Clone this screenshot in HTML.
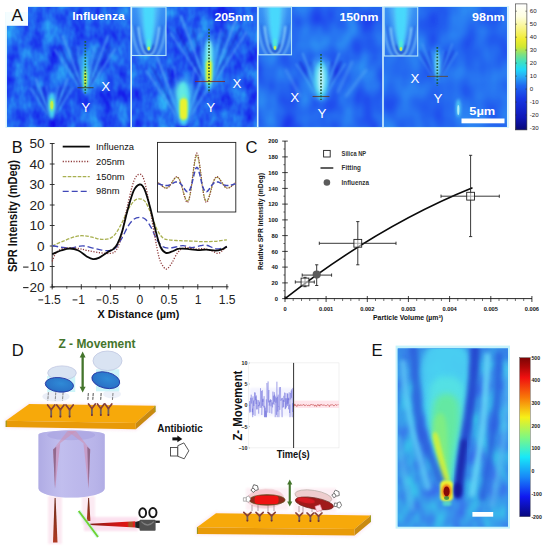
<!DOCTYPE html>
<html><head><meta charset="utf-8"><title>figure</title><style>html,body{margin:0;padding:0;background:#fff;overflow:hidden}svg{display:block}text{font-family:"Liberation Sans",sans-serif}</style></head>
<body>
<svg width="547" height="550" viewBox="0 0 547 550" font-family="Liberation Sans, sans-serif">
<rect width="547" height="550" fill="#fff"/>

<defs>
<filter id="b05" x="-50%" y="-50%" width="200%" height="200%" color-interpolation-filters="sRGB"><feGaussianBlur stdDeviation="0.5"/></filter>
<filter id="b1" x="-50%" y="-50%" width="200%" height="200%" color-interpolation-filters="sRGB"><feGaussianBlur stdDeviation="1"/></filter>
<filter id="b15" x="-50%" y="-50%" width="200%" height="200%" color-interpolation-filters="sRGB"><feGaussianBlur stdDeviation="1.5"/></filter>
<filter id="b2" x="-50%" y="-50%" width="200%" height="200%" color-interpolation-filters="sRGB"><feGaussianBlur stdDeviation="2"/></filter>
<filter id="b3" x="-50%" y="-50%" width="200%" height="200%" color-interpolation-filters="sRGB"><feGaussianBlur stdDeviation="3"/></filter>
<filter id="noise0" x="0" y="0" width="100%" height="100%" color-interpolation-filters="sRGB"><feTurbulence type="fractalNoise" baseFrequency="0.07 0.045" numOctaves="3" seed="3"/><feColorMatrix type="matrix" values="0.14 0 0 0 0.06  0.85 0 0 0 -0.05  0.06 0 0 0 0.91  0 0 0 0 1"/></filter>
<filter id="noise1" x="0" y="0" width="100%" height="100%" color-interpolation-filters="sRGB"><feTurbulence type="fractalNoise" baseFrequency="0.07 0.045" numOctaves="3" seed="11"/><feColorMatrix type="matrix" values="0.14 0 0 0 0.06  0.85 0 0 0 -0.05  0.06 0 0 0 0.91  0 0 0 0 1"/></filter>
<filter id="noiseE" x="0" y="0" width="100%" height="100%" color-interpolation-filters="sRGB"><feTurbulence type="fractalNoise" baseFrequency="0.06 0.04" numOctaves="2" seed="5"/><feColorMatrix type="matrix" values="0 0 0 0 0.22  0.55 0 0 0 0.32  0 0 0 0 0.92  0 0 0 0 1"/></filter>
<filter id="noise2" x="0" y="0" width="100%" height="100%" color-interpolation-filters="sRGB"><feTurbulence type="fractalNoise" baseFrequency="0.05 0.035" numOctaves="2" seed="21"/><feColorMatrix type="matrix" values="0.1 0 0 0 0.1  0.5 0 0 0 0.17  0.04 0 0 0 0.92  0 0 0 0 1"/></filter>
<filter id="noise3" x="0" y="0" width="100%" height="100%" color-interpolation-filters="sRGB"><feTurbulence type="fractalNoise" baseFrequency="0.045 0.03" numOctaves="2" seed="33"/><feColorMatrix type="matrix" values="0.1 0 0 0 0.1  0.45 0 0 0 0.2  0.04 0 0 0 0.92  0 0 0 0 1"/></filter>
<linearGradient id="cbA" x1="0" y1="0" x2="0" y2="1">
<stop offset="0" stop-color="#ffffff"/><stop offset="0.1" stop-color="#fefee0"/><stop offset="0.2" stop-color="#f8f480"/><stop offset="0.28" stop-color="#f0ec30"/><stop offset="0.34" stop-color="#d0e830"/><stop offset="0.4" stop-color="#80e080"/><stop offset="0.46" stop-color="#40e0c0"/><stop offset="0.52" stop-color="#20d8f8"/><stop offset="0.58" stop-color="#28a8f4"/><stop offset="0.65" stop-color="#2068f0"/><stop offset="0.75" stop-color="#1838e4"/><stop offset="0.9" stop-color="#1018b8"/><stop offset="1" stop-color="#080878"/>
</linearGradient>
<linearGradient id="cbE" x1="0" y1="0" x2="0" y2="1">
<stop offset="0" stop-color="#7c0404"/><stop offset="0.06" stop-color="#b00808"/><stop offset="0.125" stop-color="#f01010"/><stop offset="0.25" stop-color="#f87808"/><stop offset="0.375" stop-color="#f6f018"/><stop offset="0.5" stop-color="#80f880"/><stop offset="0.625" stop-color="#18e8f8"/><stop offset="0.75" stop-color="#1888f8"/><stop offset="0.875" stop-color="#1018f0"/><stop offset="1" stop-color="#08087c"/>
</linearGradient>
<linearGradient id="insetbg" x1="0" y1="0" x2="0" y2="1"><stop offset="0" stop-color="#3a92f4"/><stop offset="1" stop-color="#2c74ee"/></linearGradient>
<linearGradient id="cylshade" x1="0" y1="0" x2="1" y2="0"><stop offset="0" stop-color="#a8a4e0" stop-opacity="0.6"/><stop offset="0.35" stop-color="#c8c6f2" stop-opacity="0.5"/><stop offset="0.75" stop-color="#bcb8ec" stop-opacity="0.2"/><stop offset="1" stop-color="#a8a4e0" stop-opacity="0.55"/></linearGradient>
<linearGradient id="redbeam" x1="0" y1="0" x2="1" y2="0"><stop offset="0" stop-color="#7c1c14"/><stop offset="0.45" stop-color="#c01818"/><stop offset="0.82" stop-color="#e01414"/><stop offset="0.86" stop-color="#a85020"/><stop offset="0.93" stop-color="#a85020"/><stop offset="0.95" stop-color="#e02020"/><stop offset="1" stop-color="#e02020"/></linearGradient>
<linearGradient id="beamv" x1="0" y1="0" x2="0" y2="1"><stop offset="0" stop-color="#6c2c1c"/><stop offset="1" stop-color="#b03a22"/></linearGradient>
<radialGradient id="bluecell" cx="0.55" cy="0.4" r="0.7"><stop offset="0" stop-color="#2f8ad6"/><stop offset="0.7" stop-color="#2a74c8"/><stop offset="1" stop-color="#2858b8"/></radialGradient>
</defs>
<g id="panelA">
<rect x="5.5" y="6" width="503.6" height="122" fill="#d8f4fb"/>
<rect x="7" y="7" width="124" height="119.5" fill="#1650f6"/>
<rect x="7" y="7" width="124" height="119.5" fill="#1650f6" filter="url(#noise0)" opacity="0.92"/>
<rect x="131.5" y="7" width="126.0" height="119.5" fill="#1650f6"/>
<rect x="131.5" y="7" width="126.0" height="119.5" fill="#1650f6" filter="url(#noise1)" opacity="0.92"/>
<rect x="258" y="7" width="124.5" height="119.5" fill="#1650f6"/>
<rect x="258" y="7" width="124.5" height="119.5" fill="#1650f6" filter="url(#noise2)" opacity="0.92"/>
<rect x="383.5" y="7" width="123.10000000000002" height="119.5" fill="#1650f6"/>
<rect x="383.5" y="7" width="123.10000000000002" height="119.5" fill="#1650f6" filter="url(#noise3)" opacity="0.92"/>
<clipPath id="cpA0"><rect x="7" y="7" width="124" height="119.5"/></clipPath>
<clipPath id="cpA1"><rect x="131.5" y="7" width="126.0" height="119.5"/></clipPath>
<clipPath id="cpA2"><rect x="258" y="7" width="124.5" height="119.5"/></clipPath>
<clipPath id="cpA3"><rect x="383.5" y="7" width="123.10000000000002" height="119.5"/></clipPath>
<g clip-path="url(#cpA0)">
<line x1="47.1" y1="113.1" x2="30.6" y2="88.5" stroke="#5aaef6" stroke-width="2.2" stroke-linecap="round" opacity="0.45" filter="url(#b1)"/><line x1="48.4" y1="111.0" x2="36.2" y2="79.3" stroke="#5aaef6" stroke-width="2.2" stroke-linecap="round" opacity="0.59" filter="url(#b1)"/><line x1="50.6" y1="112.6" x2="46.5" y2="86.3" stroke="#5aaef6" stroke-width="2.2" stroke-linecap="round" opacity="0.36" filter="url(#b1)"/><line x1="53.2" y1="112.6" x2="58.3" y2="86.5" stroke="#5aaef6" stroke-width="2.2" stroke-linecap="round" opacity="0.41" filter="url(#b1)"/><line x1="55.2" y1="111.0" x2="67.4" y2="79.3" stroke="#5aaef6" stroke-width="2.2" stroke-linecap="round" opacity="0.59" filter="url(#b1)"/><line x1="56.3" y1="113.0" x2="72.5" y2="88.2" stroke="#5aaef6" stroke-width="2.2" stroke-linecap="round" opacity="0.45" filter="url(#b1)"/><line x1="49.7" y1="116.0" x2="34.0" y2="86.5" stroke="#1722cc" stroke-width="2" stroke-linecap="round" opacity="0.54" filter="url(#b1)"/><line x1="50.7" y1="116.0" x2="43.0" y2="87.0" stroke="#1722cc" stroke-width="2" stroke-linecap="round" opacity="0.50" filter="url(#b1)"/><line x1="52.9" y1="116.1" x2="61.2" y2="87.2" stroke="#1722cc" stroke-width="2" stroke-linecap="round" opacity="0.50" filter="url(#b1)"/><line x1="53.9" y1="115.9" x2="69.0" y2="86.2" stroke="#1722cc" stroke-width="2" stroke-linecap="round" opacity="0.54" filter="url(#b1)"/>
<ellipse cx="51.8" cy="105.5" rx="4.6" ry="14" fill="#3fa8f5" opacity="0.7" filter="url(#b2)"/>
<ellipse cx="51.8" cy="105.5" rx="3" ry="13" fill="#48dcf2" opacity="0.95" filter="url(#b15)"/>
<ellipse cx="51.8" cy="105" rx="2.3" ry="6.5" fill="#7df08a" opacity="0.95" filter="url(#b1)"/>
<ellipse cx="51.8" cy="105" rx="1.5" ry="4" fill="#c8f040" opacity="0.95" filter="url(#b05)"/>
<line x1="78.6" y1="85.0" x2="54.8" y2="49.7" stroke="#5aaef6" stroke-width="2.2" stroke-linecap="round" opacity="0.45" filter="url(#b1)"/><line x1="80.3" y1="82.1" x2="62.8" y2="36.4" stroke="#5aaef6" stroke-width="2.2" stroke-linecap="round" opacity="0.59" filter="url(#b1)"/><line x1="83.6" y1="84.3" x2="77.6" y2="46.5" stroke="#5aaef6" stroke-width="2.2" stroke-linecap="round" opacity="0.36" filter="url(#b1)"/><line x1="87.4" y1="84.4" x2="94.7" y2="46.8" stroke="#5aaef6" stroke-width="2.2" stroke-linecap="round" opacity="0.41" filter="url(#b1)"/><line x1="90.3" y1="82.1" x2="107.8" y2="36.4" stroke="#5aaef6" stroke-width="2.2" stroke-linecap="round" opacity="0.59" filter="url(#b1)"/><line x1="91.8" y1="84.9" x2="115.0" y2="49.2" stroke="#5aaef6" stroke-width="2.2" stroke-linecap="round" opacity="0.45" filter="url(#b1)"/><line x1="82.2" y1="89.2" x2="59.7" y2="46.8" stroke="#1722cc" stroke-width="2" stroke-linecap="round" opacity="0.54" filter="url(#b1)"/><line x1="83.8" y1="89.3" x2="72.6" y2="47.5" stroke="#1722cc" stroke-width="2" stroke-linecap="round" opacity="0.50" filter="url(#b1)"/><line x1="86.9" y1="89.3" x2="98.8" y2="47.8" stroke="#1722cc" stroke-width="2" stroke-linecap="round" opacity="0.50" filter="url(#b1)"/><line x1="88.3" y1="89.2" x2="110.1" y2="46.4" stroke="#1722cc" stroke-width="2" stroke-linecap="round" opacity="0.54" filter="url(#b1)"/><ellipse cx="85.3" cy="73.5" rx="5.8" ry="21.8" fill="#3fa8f5" opacity="0.63" filter="url(#b2)"/><ellipse cx="85.3" cy="75.2" rx="3.1" ry="18.5" fill="#48dcf2" opacity="0.81" filter="url(#b15)"/><ellipse cx="85.3" cy="78.6" rx="2.0" ry="11.3" fill="#7df08a" opacity="0.95" filter="url(#b1)"/><ellipse cx="85.3" cy="79.0" rx="1.3" ry="8.0" fill="#d4f23a" opacity="0.95" filter="url(#b05)"/>
</g>
<g clip-path="url(#cpA1)">
<line x1="175.4" y1="113.9" x2="146.5" y2="71.2" stroke="#5aaef6" stroke-width="2.2" stroke-linecap="round" opacity="0.50" filter="url(#b1)"/><line x1="177.5" y1="110.4" x2="156.2" y2="55.0" stroke="#5aaef6" stroke-width="2.2" stroke-linecap="round" opacity="0.65" filter="url(#b1)"/><line x1="181.5" y1="113.1" x2="174.2" y2="67.2" stroke="#5aaef6" stroke-width="2.2" stroke-linecap="round" opacity="0.40" filter="url(#b1)"/><line x1="186.0" y1="113.1" x2="194.9" y2="67.6" stroke="#5aaef6" stroke-width="2.2" stroke-linecap="round" opacity="0.45" filter="url(#b1)"/><line x1="189.5" y1="110.4" x2="210.8" y2="55.0" stroke="#5aaef6" stroke-width="2.2" stroke-linecap="round" opacity="0.65" filter="url(#b1)"/><line x1="191.4" y1="113.8" x2="219.5" y2="70.5" stroke="#5aaef6" stroke-width="2.2" stroke-linecap="round" opacity="0.50" filter="url(#b1)"/><line x1="179.8" y1="119.0" x2="152.4" y2="67.6" stroke="#1722cc" stroke-width="2" stroke-linecap="round" opacity="0.60" filter="url(#b1)"/><line x1="181.7" y1="119.1" x2="168.1" y2="68.5" stroke="#1722cc" stroke-width="2" stroke-linecap="round" opacity="0.55" filter="url(#b1)"/><line x1="185.5" y1="119.1" x2="199.9" y2="68.8" stroke="#1722cc" stroke-width="2" stroke-linecap="round" opacity="0.55" filter="url(#b1)"/><line x1="187.1" y1="118.9" x2="213.5" y2="67.1" stroke="#1722cc" stroke-width="2" stroke-linecap="round" opacity="0.60" filter="url(#b1)"/><ellipse cx="183.5" cy="101.4" rx="12.1" ry="25.5" fill="#3fa8f5" opacity="0.70" filter="url(#b2)"/><ellipse cx="183.5" cy="103.4" rx="6.5" ry="21.6" fill="#48dcf2" opacity="0.90" filter="url(#b15)"/><ellipse cx="183.5" cy="107.3" rx="4.2" ry="13.2" fill="#7df08a" opacity="0.95" filter="url(#b1)"/><ellipse cx="183.5" cy="107.8" rx="2.7" ry="9.3" fill="#d4f23a" opacity="0.95" filter="url(#b05)"/>
<ellipse cx="182" cy="92" rx="5.5" ry="10" fill="#6af0e0" opacity="0.8" filter="url(#b2)"/>
<rect x="180" y="98.5" width="7.2" height="21" rx="3.4" fill="#e8f230" filter="url(#b1)"/>
<line x1="200.5" y1="77.5" x2="170.6" y2="33.0" stroke="#5aaef6" stroke-width="2.2" stroke-linecap="round" opacity="0.50" filter="url(#b1)"/><line x1="202.8" y1="73.8" x2="180.7" y2="16.2" stroke="#5aaef6" stroke-width="2.2" stroke-linecap="round" opacity="0.65" filter="url(#b1)"/><line x1="206.9" y1="76.6" x2="199.3" y2="28.9" stroke="#5aaef6" stroke-width="2.2" stroke-linecap="round" opacity="0.40" filter="url(#b1)"/><line x1="211.6" y1="76.6" x2="220.8" y2="29.3" stroke="#5aaef6" stroke-width="2.2" stroke-linecap="round" opacity="0.45" filter="url(#b1)"/><line x1="215.2" y1="73.8" x2="237.3" y2="16.2" stroke="#5aaef6" stroke-width="2.2" stroke-linecap="round" opacity="0.65" filter="url(#b1)"/><line x1="217.2" y1="77.3" x2="246.4" y2="32.3" stroke="#5aaef6" stroke-width="2.2" stroke-linecap="round" opacity="0.50" filter="url(#b1)"/><line x1="205.1" y1="82.7" x2="176.7" y2="29.3" stroke="#1722cc" stroke-width="2" stroke-linecap="round" opacity="0.60" filter="url(#b1)"/><line x1="207.1" y1="82.8" x2="193.0" y2="30.2" stroke="#1722cc" stroke-width="2" stroke-linecap="round" opacity="0.55" filter="url(#b1)"/><line x1="211.0" y1="82.9" x2="226.1" y2="30.5" stroke="#1722cc" stroke-width="2" stroke-linecap="round" opacity="0.55" filter="url(#b1)"/><line x1="212.7" y1="82.6" x2="240.2" y2="28.7" stroke="#1722cc" stroke-width="2" stroke-linecap="round" opacity="0.60" filter="url(#b1)"/><ellipse cx="209" cy="62.8" rx="8.6" ry="28.6" fill="#3fa8f5" opacity="0.70" filter="url(#b2)"/><ellipse cx="209" cy="65.0" rx="4.7" ry="24.2" fill="#48dcf2" opacity="0.90" filter="url(#b15)"/><ellipse cx="209" cy="69.4" rx="3.0" ry="14.9" fill="#7df08a" opacity="0.95" filter="url(#b1)"/><ellipse cx="209" cy="70.0" rx="2.0" ry="10.4" fill="#d4f23a" opacity="0.95" filter="url(#b05)"/>
<ellipse cx="209" cy="52" rx="2.6" ry="12" fill="#a8f8e8" opacity="0.8" filter="url(#b15)"/>
<rect x="206.4" y="61" width="5.2" height="22" rx="2.4" fill="#e8f230" filter="url(#b1)"/>
</g>
<g clip-path="url(#cpA2)">
<line x1="315.6" y1="93.0" x2="296.4" y2="64.5" stroke="#5aaef6" stroke-width="2.2" stroke-linecap="round" opacity="0.42" filter="url(#b1)"/><line x1="317.0" y1="90.6" x2="302.9" y2="53.8" stroke="#5aaef6" stroke-width="2.2" stroke-linecap="round" opacity="0.55" filter="url(#b1)"/><line x1="319.6" y1="92.4" x2="314.8" y2="61.9" stroke="#5aaef6" stroke-width="2.2" stroke-linecap="round" opacity="0.34" filter="url(#b1)"/><line x1="322.7" y1="92.4" x2="328.6" y2="62.1" stroke="#5aaef6" stroke-width="2.2" stroke-linecap="round" opacity="0.38" filter="url(#b1)"/><line x1="325.0" y1="90.6" x2="339.1" y2="53.8" stroke="#5aaef6" stroke-width="2.2" stroke-linecap="round" opacity="0.55" filter="url(#b1)"/><line x1="326.3" y1="92.9" x2="345.0" y2="64.1" stroke="#5aaef6" stroke-width="2.2" stroke-linecap="round" opacity="0.42" filter="url(#b1)"/><line x1="318.5" y1="96.3" x2="300.3" y2="62.2" stroke="#1722cc" stroke-width="2" stroke-linecap="round" opacity="0.51" filter="url(#b1)"/><line x1="319.8" y1="96.4" x2="310.8" y2="62.7" stroke="#1722cc" stroke-width="2" stroke-linecap="round" opacity="0.47" filter="url(#b1)"/><line x1="322.3" y1="96.4" x2="331.9" y2="62.9" stroke="#1722cc" stroke-width="2" stroke-linecap="round" opacity="0.47" filter="url(#b1)"/><line x1="323.4" y1="96.3" x2="341.0" y2="61.8" stroke="#1722cc" stroke-width="2" stroke-linecap="round" opacity="0.51" filter="url(#b1)"/><ellipse cx="321" cy="78.6" rx="12.6" ry="22.9" fill="#3fa8f5" opacity="0.59" filter="url(#b2)"/><ellipse cx="321" cy="80.4" rx="6.8" ry="19.4" fill="#48dcf2" opacity="0.77" filter="url(#b15)"/>
<ellipse cx="321" cy="78" rx="5.5" ry="15" fill="#7ee6f6" opacity="0.7" filter="url(#b2)"/>
<ellipse cx="321" cy="80" rx="2.6" ry="13" fill="#d0fafa" opacity="0.85" filter="url(#b15)"/>
<line x1="338" y1="92" x2="352" y2="62" stroke="#62b4f6" stroke-width="2.4" opacity="0.45" stroke-linecap="round" filter="url(#b15)"/>
<line x1="346" y1="96" x2="366" y2="70" stroke="#62b4f6" stroke-width="2.4" opacity="0.45" stroke-linecap="round" filter="url(#b15)"/>
<line x1="300" y1="96" x2="286" y2="70" stroke="#62b4f6" stroke-width="2.4" opacity="0.45" stroke-linecap="round" filter="url(#b15)"/>
</g>
<g clip-path="url(#cpA3)">
<line x1="432.9" y1="76.4" x2="417.2" y2="53.2" stroke="#5aaef6" stroke-width="2.2" stroke-linecap="round" opacity="0.30" filter="url(#b1)"/><line x1="434.0" y1="74.5" x2="422.5" y2="44.3" stroke="#5aaef6" stroke-width="2.2" stroke-linecap="round" opacity="0.39" filter="url(#b1)"/><line x1="436.2" y1="76.0" x2="432.2" y2="51.0" stroke="#5aaef6" stroke-width="2.2" stroke-linecap="round" opacity="0.24" filter="url(#b1)"/><line x1="438.7" y1="76.0" x2="443.5" y2="51.2" stroke="#5aaef6" stroke-width="2.2" stroke-linecap="round" opacity="0.27" filter="url(#b1)"/><line x1="440.6" y1="74.5" x2="452.1" y2="44.3" stroke="#5aaef6" stroke-width="2.2" stroke-linecap="round" opacity="0.39" filter="url(#b1)"/><line x1="441.6" y1="76.4" x2="456.9" y2="52.8" stroke="#5aaef6" stroke-width="2.2" stroke-linecap="round" opacity="0.30" filter="url(#b1)"/><line x1="435.3" y1="79.2" x2="420.4" y2="51.2" stroke="#1722cc" stroke-width="2" stroke-linecap="round" opacity="0.36" filter="url(#b1)"/><line x1="436.3" y1="79.2" x2="428.9" y2="51.7" stroke="#1722cc" stroke-width="2" stroke-linecap="round" opacity="0.33" filter="url(#b1)"/><line x1="438.4" y1="79.3" x2="446.2" y2="51.9" stroke="#1722cc" stroke-width="2" stroke-linecap="round" opacity="0.33" filter="url(#b1)"/><line x1="439.3" y1="79.2" x2="453.6" y2="50.9" stroke="#1722cc" stroke-width="2" stroke-linecap="round" opacity="0.36" filter="url(#b1)"/><ellipse cx="437.3" cy="64.2" rx="5.2" ry="18.7" fill="#3fa8f5" opacity="0.42" filter="url(#b2)"/><ellipse cx="437.3" cy="65.6" rx="2.8" ry="15.8" fill="#48dcf2" opacity="0.54" filter="url(#b15)"/>
<ellipse cx="437.3" cy="64" rx="1.6" ry="12" fill="#9ceaf8" opacity="0.7" filter="url(#b1)"/>
<ellipse cx="458.3" cy="108" rx="2.4" ry="9" fill="#58d8f4" opacity="0.85" filter="url(#b15)"/>
<ellipse cx="458.3" cy="110" rx="1.1" ry="5" fill="#c8f8fa" opacity="0.8" filter="url(#b05)"/>
</g>
<clipPath id="ci131"><rect x="131.6" y="7" width="34.400000000000006" height="48.5"/></clipPath>
<rect x="131.6" y="7" width="34.400000000000006" height="48.5" fill="url(#insetbg)"/>
<g clip-path="url(#ci131)">
<path d="M137.8,5 Q140.8,36.9 148.8,50.9 Q156.8,36.9 159.8,5 Z" fill="#56c0fa" opacity="0.8" filter="url(#b2)"/>
<path d="M142.8,5 Q143.8,40.9 148.8,51.4 Q153.8,40.9 154.8,5 Z" fill="#48dcfc" opacity="0.92" filter="url(#b15)"/>
<path d="M143.8,44.9 Q145.20000000000002,53.3 148.8,53.3 Q152.4,53.3 153.8,44.9" fill="none" stroke="#1428b0" stroke-width="1.7" opacity="0.75" filter="url(#b1)"/>
<path d="M138.3,26.9 Q141.24,55.5 148.8,55.5 Q156.36,55.5 159.3,26.9" fill="none" stroke="#9adcfa" stroke-width="1.9" opacity="0.85" filter="url(#b1)"/>
<path d="M134.60000000000002,24.9 Q138.57600000000002,57.9 148.8,57.9 Q159.024,57.9 163.0,24.9" fill="none" stroke="#2450d8" stroke-width="1.5" opacity="0.5" filter="url(#b1)"/>
<path d="M131.20000000000002,24.9 Q136.12800000000001,60.3 148.8,60.3 Q161.472,60.3 166.4,24.9" fill="none" stroke="#8cd0f8" stroke-width="1.7" opacity="0.7" filter="url(#b1)"/>
<ellipse cx="148.8" cy="44.4" rx="1.7" ry="5" fill="#50f0d0" opacity="0.9" filter="url(#b1)"/>
<ellipse cx="148.8" cy="48.5" rx="1.4" ry="2.1" fill="#c8f050" filter="url(#b05)"/>
</g>
<rect x="131.6" y="7" width="34.400000000000006" height="48.5" fill="none" stroke="#b4e6f8" stroke-width="1.1"/>
<clipPath id="ci258"><rect x="258.5" y="7" width="33.0" height="47.8"/></clipPath>
<rect x="258.5" y="7" width="33.0" height="47.8" fill="url(#insetbg)"/>
<g clip-path="url(#ci258)">
<path d="M264.0,5 Q267.0,36.199999999999996 275.0,50.199999999999996 Q283.0,36.199999999999996 286.0,5 Z" fill="#56c0fa" opacity="0.8" filter="url(#b2)"/>
<path d="M269.0,5 Q270.0,40.199999999999996 275.0,50.699999999999996 Q280.0,40.199999999999996 281.0,5 Z" fill="#48dcfc" opacity="0.92" filter="url(#b15)"/>
<path d="M270.0,44.199999999999996 Q271.4,52.599999999999994 275.0,52.599999999999994 Q278.6,52.599999999999994 280.0,44.199999999999996" fill="none" stroke="#1428b0" stroke-width="1.7" opacity="0.75" filter="url(#b1)"/>
<path d="M264.5,26.199999999999996 Q267.44,54.8 275.0,54.8 Q282.56,54.8 285.5,26.199999999999996" fill="none" stroke="#9adcfa" stroke-width="1.9" opacity="0.85" filter="url(#b1)"/>
<path d="M260.8,24.199999999999996 Q264.776,57.199999999999996 275.0,57.199999999999996 Q285.224,57.199999999999996 289.2,24.199999999999996" fill="none" stroke="#2450d8" stroke-width="1.5" opacity="0.5" filter="url(#b1)"/>
<path d="M257.4,24.199999999999996 Q262.328,59.599999999999994 275.0,59.599999999999994 Q287.672,59.599999999999994 292.6,24.199999999999996" fill="none" stroke="#8cd0f8" stroke-width="1.7" opacity="0.7" filter="url(#b1)"/>
<ellipse cx="275.0" cy="43.699999999999996" rx="1.7" ry="5" fill="#50f0d0" opacity="0.9" filter="url(#b1)"/>
<ellipse cx="275.0" cy="47.8" rx="1.4" ry="2.1" fill="#c8f050" filter="url(#b05)"/>
</g>
<rect x="258.5" y="7" width="33.0" height="47.8" fill="none" stroke="#b4e6f8" stroke-width="1.1"/>
<clipPath id="ci384"><rect x="384.2" y="7" width="33.5" height="49"/></clipPath>
<rect x="384.2" y="7" width="33.5" height="49" fill="url(#insetbg)"/>
<g clip-path="url(#ci384)">
<path d="M389.95,5 Q392.95,37.4 400.95,51.4 Q408.95,37.4 411.95,5 Z" fill="#56c0fa" opacity="0.8" filter="url(#b2)"/>
<path d="M394.95,5 Q395.95,41.4 400.95,51.9 Q405.95,41.4 406.95,5 Z" fill="#48dcfc" opacity="0.92" filter="url(#b15)"/>
<path d="M395.95,45.4 Q397.34999999999997,53.8 400.95,53.8 Q404.55,53.8 405.95,45.4" fill="none" stroke="#1428b0" stroke-width="1.7" opacity="0.75" filter="url(#b1)"/>
<path d="M390.45,27.4 Q393.39,56.0 400.95,56.0 Q408.51,56.0 411.45,27.4" fill="none" stroke="#9adcfa" stroke-width="1.9" opacity="0.85" filter="url(#b1)"/>
<path d="M386.75,25.4 Q390.726,58.4 400.95,58.4 Q411.174,58.4 415.15,25.4" fill="none" stroke="#2450d8" stroke-width="1.5" opacity="0.5" filter="url(#b1)"/>
<path d="M383.34999999999997,25.4 Q388.27799999999996,60.8 400.95,60.8 Q413.622,60.8 418.55,25.4" fill="none" stroke="#8cd0f8" stroke-width="1.7" opacity="0.7" filter="url(#b1)"/>
<ellipse cx="400.95" cy="44.9" rx="1.7" ry="5" fill="#50f0d0" opacity="0.9" filter="url(#b1)"/>
<ellipse cx="400.95" cy="49.0" rx="1.4" ry="2.1" fill="#c8f050" filter="url(#b05)"/>
</g>
<rect x="384.2" y="7" width="33.5" height="49" fill="none" stroke="#b4e6f8" stroke-width="1.1"/>
<rect x="130.39999999999998" y="6" width="1.6" height="122" fill="#d4f2fa"/>
<rect x="256.9" y="6" width="1.6" height="122" fill="#d4f2fa"/>
<rect x="382.2" y="6" width="1.6" height="122" fill="#d4f2fa"/>
<line x1="77.5" y1="87.7" x2="93.5" y2="87.7" stroke="#3a3a2a" stroke-width="1.1" opacity="0.85"/><line x1="85.3" y1="41" x2="85.3" y2="93.6" stroke="#1d5a3a" stroke-width="1.7" stroke-dasharray="1.7 1.5" opacity="0.95"/>
<line x1="195" y1="81.5" x2="225" y2="81.5" stroke="#7a2a30" stroke-width="1.1" opacity="0.85"/><line x1="209" y1="28.8" x2="209" y2="93" stroke="#1d5a3a" stroke-width="1.7" stroke-dasharray="1.7 1.5" opacity="0.95"/>
<line x1="312.5" y1="96.5" x2="329.5" y2="96.5" stroke="#5a3a30" stroke-width="1.1" opacity="0.85"/><line x1="321" y1="54" x2="321" y2="100" stroke="#1d5a3a" stroke-width="1.7" stroke-dasharray="1.7 1.5" opacity="0.95"/>
<line x1="427" y1="76.4" x2="448" y2="76.4" stroke="#5a4a40" stroke-width="1.1" opacity="0.85"/><line x1="437.3" y1="47" x2="437.3" y2="86" stroke="#1d5a3a" stroke-width="1.7" stroke-dasharray="1.7 1.5" opacity="0.95"/>
<rect x="5.5" y="6" width="22.5" height="19.8" fill="#f4fdff"/>
<rect x="0" y="0" width="28" height="12" fill="#fff"/>
<text x="11.6" y="20.8" font-size="17.3" fill="#111">A</text>
<text x="124.8" y="20.2" font-size="11.6" text-anchor="end" fill="#fff" font-weight="bold" textLength="52.6" lengthAdjust="spacingAndGlyphs">Influenza</text>
<text x="253.4" y="20.5" font-size="11.8" text-anchor="end" fill="#fff" font-weight="bold" textLength="39" lengthAdjust="spacingAndGlyphs">205nm</text>
<text x="378.4" y="20.5" font-size="11.8" text-anchor="end" fill="#fff" font-weight="bold" textLength="39" lengthAdjust="spacingAndGlyphs">150nm</text>
<text x="504.6" y="20.5" font-size="11.8" text-anchor="end" fill="#fff" font-weight="bold" textLength="32.6" lengthAdjust="spacingAndGlyphs">98nm</text>
<text x="482.3" y="114.8" font-size="11.8" text-anchor="middle" fill="#fff" font-weight="bold" textLength="26" lengthAdjust="spacingAndGlyphs">5µm</text>
<rect x="461.5" y="118.5" width="43" height="4.8" fill="#fff"/>
<text x="105.8" y="91.3" font-size="13.4" text-anchor="middle" fill="#fff">X</text>
<text x="85.7" y="112.2" font-size="13.4" text-anchor="middle" fill="#fff">Y</text>
<text x="237" y="87.6" font-size="13.4" text-anchor="middle" fill="#fff">X</text>
<text x="210.7" y="112.2" font-size="13.4" text-anchor="middle" fill="#fff">Y</text>
<text x="294.6" y="102" font-size="13.4" text-anchor="middle" fill="#fff">X</text>
<text x="321.9" y="118.2" font-size="13.4" text-anchor="middle" fill="#fff">Y</text>
<text x="414.9" y="82.8" font-size="13.4" text-anchor="middle" fill="#fff">X</text>
<text x="437.9" y="103.2" font-size="13.4" text-anchor="middle" fill="#fff">Y</text>
<rect x="515.4" y="3.9" width="11.5" height="126" fill="url(#cbA)" stroke="#333" stroke-width="0.6"/>
<line x1="515.4" y1="11.2" x2="517" y2="11.2" stroke="#333" stroke-width="0.5"/><line x1="525.3" y1="11.2" x2="526.9" y2="11.2" stroke="#333" stroke-width="0.5"/>
<text x="529.8" y="13.4" font-size="6.1" fill="#222">60</text>
<line x1="515.4" y1="24.2" x2="517" y2="24.2" stroke="#333" stroke-width="0.5"/><line x1="525.3" y1="24.2" x2="526.9" y2="24.2" stroke="#333" stroke-width="0.5"/>
<text x="529.8" y="26.4" font-size="6.1" fill="#222">50</text>
<line x1="515.4" y1="37.2" x2="517" y2="37.2" stroke="#333" stroke-width="0.5"/><line x1="525.3" y1="37.2" x2="526.9" y2="37.2" stroke="#333" stroke-width="0.5"/>
<text x="529.8" y="39.4" font-size="6.1" fill="#222">40</text>
<line x1="515.4" y1="50.1" x2="517" y2="50.1" stroke="#333" stroke-width="0.5"/><line x1="525.3" y1="50.1" x2="526.9" y2="50.1" stroke="#333" stroke-width="0.5"/>
<text x="529.8" y="52.3" font-size="6.1" fill="#222">30</text>
<line x1="515.4" y1="63.1" x2="517" y2="63.1" stroke="#333" stroke-width="0.5"/><line x1="525.3" y1="63.1" x2="526.9" y2="63.1" stroke="#333" stroke-width="0.5"/>
<text x="529.8" y="65.3" font-size="6.1" fill="#222">20</text>
<line x1="515.4" y1="76.1" x2="517" y2="76.1" stroke="#333" stroke-width="0.5"/><line x1="525.3" y1="76.1" x2="526.9" y2="76.1" stroke="#333" stroke-width="0.5"/>
<text x="529.8" y="78.3" font-size="6.1" fill="#222">10</text>
<line x1="515.4" y1="89.1" x2="517" y2="89.1" stroke="#333" stroke-width="0.5"/><line x1="525.3" y1="89.1" x2="526.9" y2="89.1" stroke="#333" stroke-width="0.5"/>
<text x="529.8" y="91.3" font-size="6.1" fill="#222">0</text>
<line x1="515.4" y1="102.1" x2="517" y2="102.1" stroke="#333" stroke-width="0.5"/><line x1="525.3" y1="102.1" x2="526.9" y2="102.1" stroke="#333" stroke-width="0.5"/>
<text x="529.8" y="104.3" font-size="6.1" fill="#222">-10</text>
<line x1="515.4" y1="115.0" x2="517" y2="115.0" stroke="#333" stroke-width="0.5"/><line x1="525.3" y1="115.0" x2="526.9" y2="115.0" stroke="#333" stroke-width="0.5"/>
<text x="529.8" y="117.2" font-size="6.1" fill="#222">-20</text>
<line x1="515.4" y1="128.0" x2="517" y2="128.0" stroke="#333" stroke-width="0.5"/><line x1="525.3" y1="128.0" x2="526.9" y2="128.0" stroke="#333" stroke-width="0.5"/>
<text x="529.8" y="130.2" font-size="6.1" fill="#222">-30</text>
</g>
<g id="panelB">
<text x="11.8" y="152.8" font-size="16.4" fill="#111">B</text>
<line x1="52.2" y1="143" x2="52.2" y2="287.2" stroke="#222" stroke-width="1"/>
<line x1="51.7" y1="286.8" x2="228.5" y2="286.8" stroke="#222" stroke-width="1"/>
<line x1="49.8" y1="143.5" x2="54.6" y2="143.5" stroke="#222" stroke-width="0.9"/>
<text x="44.6" y="148.3" font-size="13.6" text-anchor="end" fill="#222">50</text>
<line x1="49.8" y1="164.0" x2="54.6" y2="164.0" stroke="#222" stroke-width="0.9"/>
<text x="44.6" y="168.8" font-size="13.6" text-anchor="end" fill="#222">40</text>
<line x1="49.8" y1="184.5" x2="54.6" y2="184.5" stroke="#222" stroke-width="0.9"/>
<text x="44.6" y="189.3" font-size="13.6" text-anchor="end" fill="#222">30</text>
<line x1="49.8" y1="205.0" x2="54.6" y2="205.0" stroke="#222" stroke-width="0.9"/>
<text x="44.6" y="209.8" font-size="13.6" text-anchor="end" fill="#222">20</text>
<line x1="49.8" y1="225.5" x2="54.6" y2="225.5" stroke="#222" stroke-width="0.9"/>
<text x="44.6" y="230.3" font-size="13.6" text-anchor="end" fill="#222">10</text>
<line x1="49.8" y1="246.0" x2="54.6" y2="246.0" stroke="#222" stroke-width="0.9"/>
<text x="44.6" y="250.8" font-size="13.6" text-anchor="end" fill="#222">0</text>
<line x1="49.8" y1="266.5" x2="54.6" y2="266.5" stroke="#222" stroke-width="0.9"/>
<text x="44.6" y="271.3" font-size="13.6" text-anchor="end" fill="#222">10</text>
<line x1="23.1" y1="267.1" x2="28.5" y2="267.1" stroke="#222" stroke-width="1.1"/>
<line x1="49.8" y1="287.0" x2="54.6" y2="287.0" stroke="#222" stroke-width="0.9"/>
<text x="44.6" y="291.8" font-size="13.6" text-anchor="end" fill="#222">20</text>
<line x1="23.1" y1="287.6" x2="28.5" y2="287.6" stroke="#222" stroke-width="1.1"/>
<line x1="52.2" y1="284.2" x2="52.2" y2="289.4" stroke="#222" stroke-width="0.9"/>
<line x1="66.8" y1="286" x2="66.8" y2="288.8" stroke="#222" stroke-width="0.8"/>
<line x1="81.3" y1="284.2" x2="81.3" y2="289.4" stroke="#222" stroke-width="0.9"/>
<line x1="95.9" y1="286" x2="95.9" y2="288.8" stroke="#222" stroke-width="0.8"/>
<line x1="110.4" y1="284.2" x2="110.4" y2="289.4" stroke="#222" stroke-width="0.9"/>
<line x1="125.0" y1="286" x2="125.0" y2="288.8" stroke="#222" stroke-width="0.8"/>
<line x1="139.6" y1="284.2" x2="139.6" y2="289.4" stroke="#222" stroke-width="0.9"/>
<line x1="154.1" y1="286" x2="154.1" y2="288.8" stroke="#222" stroke-width="0.8"/>
<line x1="168.7" y1="284.2" x2="168.7" y2="289.4" stroke="#222" stroke-width="0.9"/>
<line x1="183.2" y1="286" x2="183.2" y2="288.8" stroke="#222" stroke-width="0.8"/>
<line x1="197.8" y1="284.2" x2="197.8" y2="289.4" stroke="#222" stroke-width="0.9"/>
<line x1="212.3" y1="286" x2="212.3" y2="288.8" stroke="#222" stroke-width="0.8"/>
<line x1="226.9" y1="284.2" x2="226.9" y2="289.4" stroke="#222" stroke-width="0.9"/>
<line x1="38.4" y1="299.9" x2="43.2" y2="299.9" stroke="#222" stroke-width="1.05"/>
<text x="44.0" y="303.7" font-size="12.1" fill="#222">1.5</text>
<line x1="72.6" y1="299.9" x2="77.4" y2="299.9" stroke="#222" stroke-width="1.05"/>
<text x="78.2" y="303.7" font-size="12.1" fill="#222">1</text>
<line x1="96.6" y1="299.9" x2="101.4" y2="299.9" stroke="#222" stroke-width="1.05"/>
<text x="102.2" y="303.7" font-size="12.1" fill="#222">0.5</text>
<text x="139.9" y="303.7" font-size="12.1" text-anchor="middle" fill="#222">0</text>
<text x="169.0" y="303.7" font-size="12.1" text-anchor="middle" fill="#222">0.5</text>
<text x="198.1" y="303.7" font-size="12.1" text-anchor="middle" fill="#222">1</text>
<text x="227.2" y="303.7" font-size="12.1" text-anchor="middle" fill="#222">1.5</text>
<text transform="translate(17.4,216) rotate(-90)" font-size="12" font-weight="bold" text-anchor="middle" fill="#111" textLength="112" lengthAdjust="spacingAndGlyphs">SPR Intensity (mDeg)</text>
<text x="138.4" y="318.3" font-size="11" font-weight="bold" text-anchor="middle" fill="#111" textLength="82" lengthAdjust="spacingAndGlyphs">X Distance (µm)</text>
<path d="M52.2,246.0 C54.1,245.1 60.0,242.4 63.9,240.9 C67.7,239.3 72.1,237.4 75.5,236.6 C78.9,235.7 81.3,235.6 84.2,235.8 C87.1,235.9 90.1,236.8 93.0,237.4 C95.9,238.0 98.8,239.3 101.7,239.4 C104.6,239.6 108.0,239.3 110.4,238.2 C112.9,237.1 114.3,235.3 116.3,232.7 C118.2,230.0 120.1,226.2 122.1,222.4 C124.0,218.7 126.0,213.6 127.9,210.1 C129.8,206.6 131.8,203.2 133.7,201.3 C135.7,199.4 137.6,198.7 139.6,198.8 C141.5,199.0 143.4,199.4 145.4,201.9 C147.3,204.5 149.3,209.6 151.2,214.2 C153.1,218.8 155.1,225.7 157.0,229.6 C159.0,233.5 160.9,236.1 162.8,237.8 C164.8,239.5 165.8,239.4 168.7,239.8 C171.6,240.3 176.4,240.5 180.3,240.7 C184.2,240.9 188.1,240.9 192.0,241.1 C195.8,241.3 199.7,241.7 203.6,241.7 C207.5,241.7 211.4,241.6 215.2,241.3 C219.1,241.0 225.0,240.1 226.9,239.8" fill="none" stroke="#a8b050" stroke-width="1.3" stroke-dasharray="3.6 1.4"/>
<path d="M52.2,245.6 C53.7,245.9 58.0,246.8 60.9,247.2 C63.9,247.6 66.8,248.2 69.7,248.1 C72.6,247.9 76.0,246.8 78.4,246.4 C80.8,246.1 81.8,245.7 84.2,246.0 C86.7,246.3 90.1,247.4 93.0,248.1 C95.9,248.7 98.8,249.7 101.7,250.1 C104.6,250.5 108.0,251.0 110.4,250.5 C112.9,250.0 114.3,249.1 116.3,247.0 C118.2,244.9 120.1,241.2 122.1,237.8 C124.0,234.4 126.0,229.6 127.9,226.5 C129.8,223.4 131.8,220.9 133.7,219.3 C135.7,217.8 137.6,217.3 139.6,217.3 C141.5,217.3 143.4,217.6 145.4,219.3 C147.3,221.1 149.3,224.1 151.2,227.6 C153.1,231.0 155.1,236.7 157.0,239.8 C159.0,243.0 160.9,245.2 162.8,246.6 C164.8,248.0 166.5,248.0 168.7,248.1 C170.8,248.1 173.2,247.4 175.7,247.0 C178.1,246.6 180.5,245.5 183.2,245.6 C185.9,245.7 189.0,247.6 192.0,247.6 C194.9,247.6 198.3,246.0 200.7,245.6 C203.1,245.2 204.1,244.7 206.5,245.2 C208.9,245.7 212.8,248.1 215.2,248.7 C217.7,249.2 219.1,248.8 221.1,248.5 C223.0,248.2 225.9,247.1 226.9,246.8" fill="none" stroke="#4048b8" stroke-width="1.35" stroke-dasharray="6 3"/>
<path d="M52.2,261.4 C52.7,260.2 54.0,256.1 55.1,254.2 C56.3,252.3 57.3,251.1 59.2,250.1 C61.1,249.1 63.6,248.3 66.8,248.1 C70.0,247.8 75.0,248.1 78.4,248.5 C81.8,248.9 83.7,249.8 87.1,250.5 C90.5,251.2 94.9,252.1 98.8,252.6 C102.7,253.0 107.5,253.8 110.4,253.4 C113.3,253.0 114.5,252.7 116.3,250.1 C118.0,247.5 119.2,244.6 120.9,237.8 C122.7,231.0 124.6,218.5 126.7,209.1 C128.9,199.7 131.6,187.2 133.7,181.4 C135.9,175.6 137.8,174.4 139.6,174.2 C141.3,174.1 142.6,175.3 144.2,180.4 C145.9,185.5 147.7,195.8 149.4,205.0 C151.2,214.2 153.0,226.9 154.7,235.8 C156.3,244.6 157.8,253.0 159.3,258.3 C160.9,263.6 162.6,265.8 164.0,267.5 C165.4,269.2 166.1,269.4 167.5,268.6 C168.9,267.7 170.4,265.1 172.2,262.4 C173.9,259.7 175.8,254.6 178.0,252.2 C180.1,249.7 182.2,248.2 185.0,247.6 C187.8,247.1 191.8,248.9 194.9,249.1 C198.0,249.2 200.7,248.3 203.6,248.7 C206.5,249.0 209.9,250.3 212.3,251.1 C214.8,251.9 216.4,253.6 218.2,253.4 C219.9,253.2 221.4,251.3 222.8,250.1 C224.3,248.9 226.2,246.7 226.9,246.0" fill="none" stroke="#903c3c" stroke-width="1.3" stroke-dasharray="1.2 1.5"/>
<path d="M52.2,254.2 C53.7,253.6 58.0,251.5 60.9,250.5 C63.9,249.6 66.8,248.5 69.7,248.5 C72.6,248.5 75.5,249.1 78.4,250.5 C81.3,251.9 84.7,255.2 87.1,256.7 C89.6,258.1 91.0,258.9 93.0,259.1 C94.9,259.3 96.4,259.1 98.8,257.9 C101.2,256.7 105.1,253.6 107.5,252.2 C109.9,250.7 111.7,250.4 113.3,249.1 C115.0,247.7 116.0,246.9 117.4,243.9 C118.9,241.0 120.3,237.5 122.1,231.7 C123.8,225.8 126.0,215.9 127.9,209.1 C129.8,202.3 131.8,194.8 133.7,190.7 C135.7,186.6 137.8,184.8 139.6,184.5 C141.3,184.2 142.5,184.8 144.2,188.6 C146.0,192.4 148.1,199.9 150.0,207.1 C152.0,214.2 154.1,225.0 155.9,231.7 C157.6,238.3 158.9,243.5 160.5,247.0 C162.2,250.5 163.9,252.0 165.8,252.8 C167.6,253.6 169.3,252.4 171.6,251.7 C173.8,251.1 176.2,249.1 179.1,248.7 C182.1,248.2 185.9,248.8 189.0,249.1 C192.2,249.3 194.9,250.0 197.8,250.1 C200.7,250.2 203.6,249.6 206.5,249.7 C209.4,249.8 212.8,250.7 215.2,250.7 C217.7,250.7 219.1,250.4 221.1,249.7 C223.0,249.0 225.9,247.1 226.9,246.6" fill="none" stroke="#0a0a0a" stroke-width="1.8"/>
<line x1="62.7" y1="146.6" x2="89.8" y2="146.6" stroke="#0a0a0a" stroke-width="1.8"/>
<text x="96" y="150" font-size="9.4" fill="#111">Influenza</text>
<line x1="62.7" y1="161.5" x2="89.8" y2="161.5" stroke="#903c3c" stroke-width="1.3" stroke-dasharray="1.2 1.5"/>
<text x="96" y="164.8" font-size="9.4" fill="#111">205nm</text>
<line x1="62.7" y1="176.6" x2="89.8" y2="176.6" stroke="#a8b050" stroke-width="1.3" stroke-dasharray="3.6 1.4"/>
<text x="96" y="179.6" font-size="9.4" fill="#111">150nm</text>
<line x1="62.7" y1="191.4" x2="89.8" y2="191.4" stroke="#4048b8" stroke-width="1.35" stroke-dasharray="6 3"/>
<text x="96" y="194.3" font-size="9.4" fill="#111">98nm</text>
<rect x="157.5" y="142.4" width="78.3" height="69.6" fill="#fff" stroke="#222" stroke-width="0.9"/>
<path d="M158.2,182.9 L159.1,183.5 L160.1,184.2 L161.1,185.0 L162.0,185.8 L163.0,186.6 L164.0,187.3 L164.9,187.8 L165.9,188.0 L166.9,187.9 L167.8,187.5 L168.8,186.8 L169.8,185.7 L170.7,184.4 L171.7,182.9 L172.7,181.4 L173.7,179.9 L174.6,178.7 L175.6,177.7 L176.6,177.3 L177.5,177.5 L178.5,178.3 L179.5,179.9 L180.4,182.1 L181.4,185.0 L182.4,188.3 L183.3,191.8 L184.3,195.1 L185.3,198.1 L186.2,200.2 L187.2,201.1 L188.2,200.5 L189.2,198.2 L190.1,194.2 L191.1,188.5 L192.1,181.5 L193.0,174.1 L194.0,166.9 L195.0,160.8 L195.9,156.8 L196.9,155.4 L197.9,156.8 L198.8,160.8 L199.8,166.9 L200.8,174.1 L201.7,181.5 L202.7,188.5 L203.7,194.2 L204.6,198.2 L205.6,200.5 L206.6,201.1 L207.6,200.2 L208.5,198.1 L209.5,195.1 L210.5,191.8 L211.4,188.3 L212.4,185.0 L213.4,182.1 L214.3,179.9 L215.3,178.3 L216.3,177.5 L217.2,177.3 L218.2,177.7 L219.2,178.7 L220.1,179.9 L221.1,181.4 L222.1,182.9 L223.1,184.4 L224.0,185.7 L225.0,186.8 L226.0,187.5 L226.9,187.9 L227.9,188.0 L228.9,187.8 L229.8,187.3 L230.8,186.6 L231.8,185.8 L232.7,185.0 L233.7,184.2 L234.7,183.5 L235.6,182.9" fill="none" stroke="#a8b050" stroke-width="1.2" stroke-dasharray="3 1.2"/>
<path d="M158.2,182.8 L159.1,183.4 L160.1,184.2 L161.1,185.1 L162.0,186.0 L163.0,186.8 L164.0,187.5 L164.9,188.0 L165.9,188.3 L166.9,188.2 L167.8,187.8 L168.8,187.0 L169.8,185.8 L170.7,184.4 L171.7,182.8 L172.7,181.2 L173.7,179.6 L174.6,178.2 L175.6,177.2 L176.6,176.7 L177.5,176.9 L178.5,177.8 L179.5,179.5 L180.4,182.0 L181.4,185.0 L182.4,188.6 L183.3,192.3 L184.3,196.0 L185.3,199.2 L186.2,201.5 L187.2,202.5 L188.2,201.8 L189.2,199.3 L190.1,194.9 L191.1,188.8 L192.1,181.3 L193.0,173.2 L194.0,165.5 L195.0,159.0 L195.9,154.6 L196.9,153.1 L197.9,154.6 L198.8,159.0 L199.8,165.5 L200.8,173.2 L201.7,181.3 L202.7,188.8 L203.7,194.9 L204.6,199.3 L205.6,201.8 L206.6,202.5 L207.6,201.5 L208.5,199.2 L209.5,196.0 L210.5,192.3 L211.4,188.6 L212.4,185.0 L213.4,182.0 L214.3,179.5 L215.3,177.8 L216.3,176.9 L217.2,176.7 L218.2,177.2 L219.2,178.2 L220.1,179.6 L221.1,181.2 L222.1,182.8 L223.1,184.4 L224.0,185.8 L225.0,187.0 L226.0,187.8 L226.9,188.2 L227.9,188.3 L228.9,188.0 L229.8,187.5 L230.8,186.8 L231.8,186.0 L232.7,185.1 L233.7,184.2 L234.7,183.4 L235.6,182.8" fill="none" stroke="#903c3c" stroke-width="1.2" stroke-dasharray="1.1 1.4"/>
<path d="M158.2,183.9 L159.1,184.1 L160.1,184.3 L161.1,184.6 L162.0,184.9 L163.0,185.1 L164.0,185.4 L164.9,185.5 L165.9,185.6 L166.9,185.6 L167.8,185.5 L168.8,185.2 L169.8,184.9 L170.7,184.4 L171.7,183.9 L172.7,183.4 L173.7,182.8 L174.6,182.4 L175.6,182.0 L176.6,181.9 L177.5,181.9 L178.5,182.2 L179.5,182.7 L180.4,183.5 L181.4,184.6 L182.4,185.9 L183.3,187.3 L184.3,188.7 L185.3,190.1 L186.2,191.1 L187.2,191.7 L188.2,191.7 L189.2,190.9 L190.1,189.1 L191.1,186.4 L192.1,182.9 L193.0,178.8 L194.0,174.6 L195.0,170.9 L195.9,168.3 L196.9,167.4 L197.9,168.3 L198.8,170.9 L199.8,174.6 L200.8,178.8 L201.7,182.9 L202.7,186.4 L203.7,189.1 L204.6,190.9 L205.6,191.7 L206.6,191.7 L207.6,191.1 L208.5,190.1 L209.5,188.7 L210.5,187.3 L211.4,185.9 L212.4,184.6 L213.4,183.5 L214.3,182.7 L215.3,182.2 L216.3,181.9 L217.2,181.9 L218.2,182.0 L219.2,182.4 L220.1,182.8 L221.1,183.4 L222.1,183.9 L223.1,184.4 L224.0,184.9 L225.0,185.2 L226.0,185.5 L226.9,185.6 L227.9,185.6 L228.9,185.5 L229.8,185.4 L230.8,185.1 L231.8,184.9 L232.7,184.6 L233.7,184.3 L234.7,184.1 L235.6,183.9" fill="none" stroke="#4048b8" stroke-width="1.5" stroke-dasharray="5 2.4"/>
</g>
<g id="panelC">
<text x="245.5" y="152.5" font-size="16.6" fill="#111">C</text>
<line x1="285" y1="141" x2="285" y2="299" stroke="#111" stroke-width="0.9"/>
<line x1="284.6" y1="298.6" x2="532" y2="298.6" stroke="#111" stroke-width="0.9"/>
<line x1="282.2" y1="298.6" x2="287.8" y2="298.6" stroke="#111" stroke-width="0.8"/>
<text x="278" y="300.7" font-size="5.8" font-weight="bold" text-anchor="end" fill="#111">0</text>
<line x1="282.2" y1="282.9" x2="287.8" y2="282.9" stroke="#111" stroke-width="0.8"/>
<text x="278" y="285.0" font-size="5.8" font-weight="bold" text-anchor="end" fill="#111">20</text>
<line x1="282.2" y1="267.1" x2="287.8" y2="267.1" stroke="#111" stroke-width="0.8"/>
<text x="278" y="269.2" font-size="5.8" font-weight="bold" text-anchor="end" fill="#111">40</text>
<line x1="282.2" y1="251.4" x2="287.8" y2="251.4" stroke="#111" stroke-width="0.8"/>
<text x="278" y="253.5" font-size="5.8" font-weight="bold" text-anchor="end" fill="#111">60</text>
<line x1="282.2" y1="235.6" x2="287.8" y2="235.6" stroke="#111" stroke-width="0.8"/>
<text x="278" y="237.7" font-size="5.8" font-weight="bold" text-anchor="end" fill="#111">80</text>
<line x1="282.2" y1="219.9" x2="287.8" y2="219.9" stroke="#111" stroke-width="0.8"/>
<text x="278" y="222.0" font-size="5.8" font-weight="bold" text-anchor="end" fill="#111">100</text>
<line x1="282.2" y1="204.1" x2="287.8" y2="204.1" stroke="#111" stroke-width="0.8"/>
<text x="278" y="206.2" font-size="5.8" font-weight="bold" text-anchor="end" fill="#111">120</text>
<line x1="282.2" y1="188.4" x2="287.8" y2="188.4" stroke="#111" stroke-width="0.8"/>
<text x="278" y="190.5" font-size="5.8" font-weight="bold" text-anchor="end" fill="#111">140</text>
<line x1="282.2" y1="172.6" x2="287.8" y2="172.6" stroke="#111" stroke-width="0.8"/>
<text x="278" y="174.7" font-size="5.8" font-weight="bold" text-anchor="end" fill="#111">160</text>
<line x1="282.2" y1="156.9" x2="287.8" y2="156.9" stroke="#111" stroke-width="0.8"/>
<text x="278" y="159.0" font-size="5.8" font-weight="bold" text-anchor="end" fill="#111">180</text>
<line x1="282.2" y1="141.1" x2="287.8" y2="141.1" stroke="#111" stroke-width="0.8"/>
<text x="278" y="143.2" font-size="5.8" font-weight="bold" text-anchor="end" fill="#111">200</text>
<line x1="285.0" y1="296" x2="285.0" y2="302" stroke="#111" stroke-width="0.8"/>
<text x="285.0" y="310.8" font-size="5.7" font-weight="bold" text-anchor="middle" fill="#111">0</text>
<line x1="326.1" y1="296" x2="326.1" y2="302" stroke="#111" stroke-width="0.8"/>
<text x="326.1" y="310.8" font-size="5.7" font-weight="bold" text-anchor="middle" fill="#111">0.001</text>
<line x1="367.3" y1="296" x2="367.3" y2="302" stroke="#111" stroke-width="0.8"/>
<text x="367.3" y="310.8" font-size="5.7" font-weight="bold" text-anchor="middle" fill="#111">0.002</text>
<line x1="408.4" y1="296" x2="408.4" y2="302" stroke="#111" stroke-width="0.8"/>
<text x="408.4" y="310.8" font-size="5.7" font-weight="bold" text-anchor="middle" fill="#111">0.003</text>
<line x1="449.6" y1="296" x2="449.6" y2="302" stroke="#111" stroke-width="0.8"/>
<text x="449.6" y="310.8" font-size="5.7" font-weight="bold" text-anchor="middle" fill="#111">0.004</text>
<line x1="490.8" y1="296" x2="490.8" y2="302" stroke="#111" stroke-width="0.8"/>
<text x="490.8" y="310.8" font-size="5.7" font-weight="bold" text-anchor="middle" fill="#111">0.005</text>
<line x1="531.9" y1="296" x2="531.9" y2="302" stroke="#111" stroke-width="0.8"/>
<text x="531.9" y="310.8" font-size="5.7" font-weight="bold" text-anchor="middle" fill="#111">0.006</text>
<line x1="293.2" y1="298.6" x2="293.2" y2="301" stroke="#111" stroke-width="0.6"/>
<line x1="301.5" y1="298.6" x2="301.5" y2="301" stroke="#111" stroke-width="0.6"/>
<line x1="309.7" y1="298.6" x2="309.7" y2="301" stroke="#111" stroke-width="0.6"/>
<line x1="317.9" y1="298.6" x2="317.9" y2="301" stroke="#111" stroke-width="0.6"/>
<line x1="334.4" y1="298.6" x2="334.4" y2="301" stroke="#111" stroke-width="0.6"/>
<line x1="342.6" y1="298.6" x2="342.6" y2="301" stroke="#111" stroke-width="0.6"/>
<line x1="350.8" y1="298.6" x2="350.8" y2="301" stroke="#111" stroke-width="0.6"/>
<line x1="359.1" y1="298.6" x2="359.1" y2="301" stroke="#111" stroke-width="0.6"/>
<line x1="375.5" y1="298.6" x2="375.5" y2="301" stroke="#111" stroke-width="0.6"/>
<line x1="383.8" y1="298.6" x2="383.8" y2="301" stroke="#111" stroke-width="0.6"/>
<line x1="392.0" y1="298.6" x2="392.0" y2="301" stroke="#111" stroke-width="0.6"/>
<line x1="400.2" y1="298.6" x2="400.2" y2="301" stroke="#111" stroke-width="0.6"/>
<line x1="416.7" y1="298.6" x2="416.7" y2="301" stroke="#111" stroke-width="0.6"/>
<line x1="424.9" y1="298.6" x2="424.9" y2="301" stroke="#111" stroke-width="0.6"/>
<line x1="433.1" y1="298.6" x2="433.1" y2="301" stroke="#111" stroke-width="0.6"/>
<line x1="441.4" y1="298.6" x2="441.4" y2="301" stroke="#111" stroke-width="0.6"/>
<line x1="457.8" y1="298.6" x2="457.8" y2="301" stroke="#111" stroke-width="0.6"/>
<line x1="466.1" y1="298.6" x2="466.1" y2="301" stroke="#111" stroke-width="0.6"/>
<line x1="474.3" y1="298.6" x2="474.3" y2="301" stroke="#111" stroke-width="0.6"/>
<line x1="482.5" y1="298.6" x2="482.5" y2="301" stroke="#111" stroke-width="0.6"/>
<line x1="499.0" y1="298.6" x2="499.0" y2="301" stroke="#111" stroke-width="0.6"/>
<line x1="507.2" y1="298.6" x2="507.2" y2="301" stroke="#111" stroke-width="0.6"/>
<line x1="515.4" y1="298.6" x2="515.4" y2="301" stroke="#111" stroke-width="0.6"/>
<line x1="523.7" y1="298.6" x2="523.7" y2="301" stroke="#111" stroke-width="0.6"/>
<line x1="283.4" y1="290.7" x2="285" y2="290.7" stroke="#111" stroke-width="0.6"/>
<line x1="283.4" y1="275.0" x2="285" y2="275.0" stroke="#111" stroke-width="0.6"/>
<line x1="283.4" y1="259.2" x2="285" y2="259.2" stroke="#111" stroke-width="0.6"/>
<line x1="283.4" y1="243.5" x2="285" y2="243.5" stroke="#111" stroke-width="0.6"/>
<line x1="283.4" y1="227.7" x2="285" y2="227.7" stroke="#111" stroke-width="0.6"/>
<line x1="283.4" y1="212.0" x2="285" y2="212.0" stroke="#111" stroke-width="0.6"/>
<line x1="283.4" y1="196.2" x2="285" y2="196.2" stroke="#111" stroke-width="0.6"/>
<line x1="283.4" y1="180.5" x2="285" y2="180.5" stroke="#111" stroke-width="0.6"/>
<line x1="283.4" y1="164.7" x2="285" y2="164.7" stroke="#111" stroke-width="0.6"/>
<line x1="283.4" y1="149.0" x2="285" y2="149.0" stroke="#111" stroke-width="0.6"/>
<text transform="translate(262.6,221.6) rotate(-90)" font-size="6.8" font-weight="bold" text-anchor="middle" fill="#111" textLength="97" lengthAdjust="spacingAndGlyphs">Relative SPR Intensity (mDeg)</text>
<text x="408" y="320.3" font-size="6.8" font-weight="bold" text-anchor="middle" fill="#111" textLength="70" lengthAdjust="spacingAndGlyphs">Particle Volume (µm³)</text>
<path d="M285,298.6 Q378.7,225.6 472.5,187.8" fill="none" stroke="#0a0a0a" stroke-width="1.6"/>
<line x1="295.3" y1="282" x2="314.3" y2="282" stroke="#222" stroke-width="0.9"/><line x1="305" y1="277.3" x2="305" y2="286.7" stroke="#222" stroke-width="0.9"/><line x1="295.3" y1="280.4" x2="295.3" y2="283.6" stroke="#222" stroke-width="0.9"/><line x1="314.3" y1="280.4" x2="314.3" y2="283.6" stroke="#222" stroke-width="0.9"/><line x1="303.4" y1="277.3" x2="306.6" y2="277.3" stroke="#222" stroke-width="0.9"/><line x1="303.4" y1="286.7" x2="306.6" y2="286.7" stroke="#222" stroke-width="0.9"/>
<line x1="319.3" y1="243.3" x2="396" y2="243.3" stroke="#222" stroke-width="0.9"/><line x1="357.8" y1="221.6" x2="357.8" y2="264.8" stroke="#222" stroke-width="0.9"/><line x1="319.3" y1="241.70000000000002" x2="319.3" y2="244.9" stroke="#222" stroke-width="0.9"/><line x1="396" y1="241.70000000000002" x2="396" y2="244.9" stroke="#222" stroke-width="0.9"/><line x1="356.2" y1="221.6" x2="359.40000000000003" y2="221.6" stroke="#222" stroke-width="0.9"/><line x1="356.2" y1="264.8" x2="359.40000000000003" y2="264.8" stroke="#222" stroke-width="0.9"/>
<line x1="441" y1="196.2" x2="499.3" y2="196.2" stroke="#222" stroke-width="0.9"/><line x1="470.6" y1="155.3" x2="470.6" y2="236.6" stroke="#222" stroke-width="0.9"/><line x1="441" y1="194.6" x2="441" y2="197.79999999999998" stroke="#222" stroke-width="0.9"/><line x1="499.3" y1="194.6" x2="499.3" y2="197.79999999999998" stroke="#222" stroke-width="0.9"/><line x1="469.0" y1="155.3" x2="472.20000000000005" y2="155.3" stroke="#222" stroke-width="0.9"/><line x1="469.0" y1="236.6" x2="472.20000000000005" y2="236.6" stroke="#222" stroke-width="0.9"/>
<line x1="302.2" y1="275.1" x2="331.6" y2="275.1" stroke="#222" stroke-width="0.9"/><line x1="316.7" y1="264.8" x2="316.7" y2="285.5" stroke="#222" stroke-width="0.9"/><line x1="302.2" y1="273.5" x2="302.2" y2="276.70000000000005" stroke="#222" stroke-width="0.9"/><line x1="331.6" y1="273.5" x2="331.6" y2="276.70000000000005" stroke="#222" stroke-width="0.9"/><line x1="315.09999999999997" y1="264.8" x2="318.3" y2="264.8" stroke="#222" stroke-width="0.9"/><line x1="315.09999999999997" y1="285.5" x2="318.3" y2="285.5" stroke="#222" stroke-width="0.9"/>
<rect x="301.1" y="278.1" width="7.8" height="7.8" fill="#fff" fill-opacity="0.55" stroke="#222" stroke-width="0.9"/>
<rect x="353.90000000000003" y="239.4" width="7.8" height="7.8" fill="#fff" fill-opacity="0.55" stroke="#222" stroke-width="0.9"/>
<rect x="466.70000000000005" y="192.29999999999998" width="7.8" height="7.8" fill="#fff" fill-opacity="0.55" stroke="#222" stroke-width="0.9"/>
<circle cx="316.7" cy="274.6" r="4.1" fill="#5c5c5c"/>
<rect x="323.6" y="150.4" width="6.6" height="6.6" fill="#fff" stroke="#222" stroke-width="0.9"/>
<text x="341.6" y="155.8" font-size="6.3" font-weight="bold" fill="#333" textLength="24.6" lengthAdjust="spacingAndGlyphs">Silica NP</text>
<line x1="320.5" y1="168" x2="333.3" y2="168" stroke="#0a0a0a" stroke-width="1.3"/>
<text x="341.6" y="170.4" font-size="6.3" font-weight="bold" fill="#333">Fitting</text>
<circle cx="326.9" cy="182.5" r="3.3" fill="#5c5c5c"/>
<text x="341.6" y="184.9" font-size="6.3" font-weight="bold" fill="#333">Influenza</text>
</g>
<g id="panelD">
<text x="11.8" y="355.5" font-size="16.6" fill="#111">D</text>
<text x="97" y="348" font-size="12.6" font-weight="bold" text-anchor="middle" fill="#44752c" textLength="77" lengthAdjust="spacingAndGlyphs">Z - Movement</text>
<rect x="48" y="496" width="14" height="48" fill="#fbe3ee" opacity="0.8" filter="url(#b1)"/>
<rect x="82" y="496" width="13" height="28" fill="#fbe3ee" opacity="0.7" filter="url(#b1)"/>
<rect x="84" y="517" width="54" height="14" fill="#fbd4e8" opacity="0.7" filter="url(#b1)"/>
<path d="M38.5,434.4 A33.1,3.6 0 0 1 104.7,434.4 L104.7,488.6 A33.1,9 0 0 1 38.5,488.6 Z" fill="#bab6ea"/>
<path d="M38.5,434.4 A33.1,3.6 0 0 1 104.7,434.4 L104.7,488.6 A33.1,9 0 0 1 38.5,488.6 Z" fill="url(#cylshade)"/>
<ellipse cx="71.2" cy="435" rx="24" ry="5.2" fill="#aba6e2" opacity="0.75"/>
<polygon points="67.5,431 76,431 60.2,443.2 53.1,449.5" fill="#d090b0" opacity="0.55"/>
<polygon points="67.5,431 76,431 90.2,449.5 83.4,443.2" fill="#d090b0" opacity="0.55"/>
<polygon points="53.1,449.6 60.2,443.2 55.2,488.6" fill="#c99ac4" opacity="0.9"/>
<polygon points="53.1,449.6 56.2,446.8 55,488.6" fill="#8c6486" opacity="0.9"/>
<polygon points="83.4,443.2 90.2,449.6 88.5,488.6" fill="#c99ac4" opacity="0.9"/>
<polygon points="87.3,446.8 90.2,449.6 88.6,488.6" fill="#8c6486" opacity="0.9"/>
<polygon points="54.6,498 55.6,498 57.5,542.6 53,542.6" fill="url(#beamv)"/>
<polygon points="88.2,498 89.1,498 90.4,521 86.8,521" fill="url(#beamv)"/>
<polygon points="90,523.7 135.4,521.2 135.4,527.6 90,525.1" fill="url(#redbeam)"/>
<line x1="78.7" y1="511" x2="98" y2="537" stroke="#b8f4e8" stroke-width="4" opacity="0.5"/>
<line x1="78.7" y1="511" x2="98" y2="537" stroke="#6fd230" stroke-width="1.9"/>
<polygon points="135.2,522 139.9,520.8 139.9,528.6 135.2,527.4" fill="#222"/>
<rect x="139.6" y="519.8" width="16" height="10.9" rx="0.8" fill="#505050"/>
<path d="M141.4,521 Q147.6,527.6 153.8,521 L153.8,522.4 Q147.6,529 141.4,522.4 Z" fill="#8a8a8a" opacity="0.8"/>
<rect x="155.4" y="520.6" width="4.4" height="2.3" fill="#222"/>
<ellipse cx="142.7" cy="512.8" rx="3.4" ry="4.6" fill="#fff" stroke="#161616" stroke-width="1.9"/>
<ellipse cx="152.9" cy="512.6" rx="3.6" ry="4.6" fill="#fff" stroke="#161616" stroke-width="1.9"/>
<polygon points="29,402.6 156.8,404.4 156.8,413 136.5,431 4.5,428.6 4.5,419.4" fill="#fbe4f0" opacity="0.6" filter="url(#b1)"/>
<polygon points="29.2,404 155.4,405.8 135.8,423 5.8,420.8" fill="#f7a90a"/><polygon points="5.8,420.8 135.8,423 135.8,429.2 5.8,427.0" fill="#e89a08"/><polygon points="135.8,423 155.4,405.8 155.4,412.0 135.8,429.2" fill="#c98a10"/><line x1="6.2" y1="420.8" x2="6.2" y2="427.0" stroke="#8f9a20" stroke-width="1"/><line x1="155.0" y1="405.8" x2="155.0" y2="412.0" stroke="#9aa020" stroke-width="1"/>
<path d="M51.2,416.5 L51.2,409.83" stroke="#6e605c" stroke-width="1.8" fill="none" stroke-linecap="round"/><path d="M47.6,405 L51.2,409.83 L54.800000000000004,405" stroke="#85403a" stroke-width="1.7" fill="none" stroke-linecap="round" stroke-linejoin="round"/><circle cx="51.2" cy="416.5" r="0.9" fill="#7a3030"/>
<path d="M60.4,416.5 L60.4,409.83" stroke="#6e605c" stroke-width="1.8" fill="none" stroke-linecap="round"/><path d="M56.8,405 L60.4,409.83 L64.0,405" stroke="#85403a" stroke-width="1.7" fill="none" stroke-linecap="round" stroke-linejoin="round"/><circle cx="60.4" cy="416.5" r="0.9" fill="#7a3030"/>
<path d="M69.6,416.5 L69.6,409.83" stroke="#6e605c" stroke-width="1.8" fill="none" stroke-linecap="round"/><path d="M66.0,405 L69.6,409.83 L73.19999999999999,405" stroke="#85403a" stroke-width="1.7" fill="none" stroke-linecap="round" stroke-linejoin="round"/><circle cx="69.6" cy="416.5" r="0.9" fill="#7a3030"/>
<path d="M91.9,415 L91.9,408.62" stroke="#6e605c" stroke-width="1.8" fill="none" stroke-linecap="round"/><path d="M88.5,404 L91.9,408.62 L95.30000000000001,404" stroke="#85403a" stroke-width="1.7" fill="none" stroke-linecap="round" stroke-linejoin="round"/><circle cx="91.9" cy="415" r="0.9" fill="#7a3030"/>
<path d="M100.8,415 L100.8,408.62" stroke="#6e605c" stroke-width="1.8" fill="none" stroke-linecap="round"/><path d="M97.39999999999999,404 L100.8,408.62 L104.2,404" stroke="#85403a" stroke-width="1.7" fill="none" stroke-linecap="round" stroke-linejoin="round"/><circle cx="100.8" cy="415" r="0.9" fill="#7a3030"/>
<path d="M108.4,415 L108.4,408.62" stroke="#6e605c" stroke-width="1.8" fill="none" stroke-linecap="round"/><path d="M105.0,404 L108.4,408.62 L111.80000000000001,404" stroke="#85403a" stroke-width="1.7" fill="none" stroke-linecap="round" stroke-linejoin="round"/><circle cx="108.4" cy="415" r="0.9" fill="#7a3030"/>
<line x1="48.4" y1="392.4" x2="47.8" y2="400.4" stroke="#666" stroke-width="0.7" stroke-dasharray="3 0.8"/>
<line x1="55.8" y1="392.4" x2="55.199999999999996" y2="400.4" stroke="#666" stroke-width="0.7" stroke-dasharray="3 0.8"/>
<line x1="63.1" y1="392.4" x2="62.5" y2="400.4" stroke="#666" stroke-width="0.7" stroke-dasharray="3 0.8"/>
<line x1="88.4" y1="393" x2="87.80000000000001" y2="400.4" stroke="#666" stroke-width="0.7" stroke-dasharray="3 0.8"/>
<line x1="93.3" y1="393" x2="92.7" y2="400.4" stroke="#666" stroke-width="0.7" stroke-dasharray="3 0.8"/>
<line x1="101.2" y1="393" x2="100.60000000000001" y2="400.4" stroke="#666" stroke-width="0.7" stroke-dasharray="3 0.8"/>
<line x1="113" y1="393" x2="112.4" y2="400.4" stroke="#666" stroke-width="0.7" stroke-dasharray="3 0.8"/>
<ellipse cx="56" cy="396.6" rx="13.6" ry="5" fill="#e6ebf6" opacity="0.85"/>
<ellipse cx="112" cy="394" rx="9" ry="4.4" fill="#e9eef8" opacity="0.8"/>
<line x1="48.4" y1="392.4" x2="47.8" y2="400.4" stroke="#666" stroke-width="0.7" stroke-dasharray="3 0.8"/>
<line x1="55.8" y1="392.4" x2="55.199999999999996" y2="400.4" stroke="#666" stroke-width="0.7" stroke-dasharray="3 0.8"/>
<line x1="63.1" y1="392.4" x2="62.5" y2="400.4" stroke="#666" stroke-width="0.7" stroke-dasharray="3 0.8"/>
<line x1="88.4" y1="393" x2="87.80000000000001" y2="400.4" stroke="#666" stroke-width="0.7" stroke-dasharray="3 0.8"/>
<line x1="93.3" y1="393" x2="92.7" y2="400.4" stroke="#666" stroke-width="0.7" stroke-dasharray="3 0.8"/>
<line x1="101.2" y1="393" x2="100.60000000000001" y2="400.4" stroke="#666" stroke-width="0.7" stroke-dasharray="3 0.8"/>
<line x1="113" y1="393" x2="112.4" y2="400.4" stroke="#666" stroke-width="0.7" stroke-dasharray="3 0.8"/>
<rect x="47.2" y="376" width="28" height="16" fill="#c4f3f8" opacity="0.85"/>
<rect x="96" y="369.3" width="23.3" height="22" fill="#c4f3f8" opacity="0.85"/>
<ellipse cx="62" cy="372.9" rx="14.3" ry="7" fill="#d7e2f2" stroke="#bcc4e0" stroke-width="0.8" opacity="0.95"/>
<ellipse cx="107.5" cy="360.8" rx="14.5" ry="9.8" fill="#d7e2f2" stroke="#bcc4e0" stroke-width="0.8" opacity="0.95"/>
<ellipse cx="59.4" cy="384.8" rx="14.2" ry="7.2" fill="url(#bluecell)" stroke="#2a3aa6" stroke-width="0.9" transform="rotate(6 59.4 384.8)"/>
<ellipse cx="105.8" cy="380.2" rx="14.2" ry="8" fill="url(#bluecell)" stroke="#2a3aa6" stroke-width="0.9" transform="rotate(13 105.8 380.2)"/>
<g fill="#44752c"><rect x="81.5" y="356" width="2.3" height="32"/><polygon points="82.65,351.6 85.6,357.4 79.7,357.4"/><polygon points="82.65,392.6 85.6,386.8 79.7,386.8"/></g>
<text x="180" y="432" font-size="10.6" font-weight="bold" text-anchor="middle" fill="#111" textLength="45.3" lengthAdjust="spacingAndGlyphs">Antibiotic</text>
<g fill="#111"><rect x="172.4" y="437.4" width="5.8" height="3"/><polygon points="177.4,435.6 182.3,438.9 177.4,442.2"/></g>
<g transform="translate(170.5,446.6) rotate(0) scale(1.0)" fill="#fff" stroke="#444" stroke-width="0.90" ><rect x="0" y="0.9" width="7.3" height="8.5"/><polygon points="7.3,-0.9 13.4,-3.7 18.3,4.2 13.7,12.2 7.3,9.7"/></g>
<rect x="248.8" y="362.9" width="90.2" height="85" fill="#fff" stroke="#e2e2e2" stroke-width="0.5"/>
<text x="247.4" y="364.9" font-size="5.3" font-weight="bold" text-anchor="end" fill="#222">10</text>
<line x1="248.8" y1="363" x2="250" y2="363" stroke="#888" stroke-width="0.5"/>
<text x="247.4" y="385.9" font-size="5.3" font-weight="bold" text-anchor="end" fill="#222">5</text>
<line x1="248.8" y1="384" x2="250" y2="384" stroke="#888" stroke-width="0.5"/>
<text x="247.4" y="407.2" font-size="5.3" font-weight="bold" text-anchor="end" fill="#222">0</text>
<line x1="248.8" y1="405.3" x2="250" y2="405.3" stroke="#888" stroke-width="0.5"/>
<text x="247.4" y="428.5" font-size="5.3" font-weight="bold" text-anchor="end" fill="#222">−5</text>
<line x1="248.8" y1="426.6" x2="250" y2="426.6" stroke="#888" stroke-width="0.5"/>
<text x="247.4" y="449.9" font-size="5.3" font-weight="bold" text-anchor="end" fill="#222">−10</text>
<line x1="248.8" y1="448" x2="250" y2="448" stroke="#888" stroke-width="0.5"/>
<rect x="249.6" y="388" width="44" height="28" fill="#dcdcff" opacity="0.3" filter="url(#b1)"/>
<path d="M249.4,411.4 L249.6,401.1 L249.8,412.7 L250.1,404.1 L250.3,402.7 L250.5,397.7 L250.7,411.9 L251.0,405.8 L251.2,394.7 L251.4,398.2 L251.6,403.5 L251.8,401.5 L252.1,397.9 L252.3,412.3 L252.5,408.6 L252.7,417.2 L253.0,396.4 L253.2,414.9 L253.4,404.4 L253.6,400.5 L253.8,406.0 L254.1,401.3 L254.3,401.2 L254.5,394.6 L254.7,392.3 L255.0,415.8 L255.2,392.7 L255.4,400.2 L255.6,400.0 L255.8,396.5 L256.1,404.0 L256.3,395.4 L256.5,409.4 L256.7,399.5 L257.0,401.0 L257.2,405.8 L257.4,409.3 L257.6,405.2 L257.8,403.0 L258.1,400.0 L258.3,406.3 L258.5,405.1 L258.7,413.7 L259.0,400.5 L259.2,401.8 L259.4,405.6 L259.6,402.2 L259.8,406.7 L260.1,407.9 L260.3,404.7 L260.5,388.2 L260.7,402.5 L260.9,404.7 L261.2,407.7 L261.4,404.6 L261.6,391.0 L261.8,415.0 L262.1,408.2 L262.3,390.2 L262.5,405.9 L262.7,399.4 L262.9,401.9 L263.2,398.7 L263.4,404.3 L263.6,407.4 L263.8,407.1 L264.1,396.2 L264.3,410.6 L264.5,417.2 L264.7,405.8 L264.9,417.1 L265.2,407.6 L265.4,408.0 L265.6,417.2 L265.8,410.8 L266.1,417.2 L266.3,399.4 L266.5,417.2 L266.7,411.3 L266.9,383.0 L267.2,388.1 L267.4,404.2 L267.6,404.5 L267.8,412.6 L268.1,381.4 L268.3,398.3 L268.5,402.4 L268.7,394.6 L268.9,390.0 L269.2,405.6 L269.4,402.7 L269.6,400.7 L269.8,413.0 L270.1,400.1 L270.3,402.1 L270.5,399.2 L270.7,400.5 L270.9,406.4 L271.2,400.4 L271.4,399.9 L271.6,406.1 L271.8,413.6 L272.1,406.9 L272.3,402.5 L272.5,407.3 L272.7,407.4 L272.9,391.6 L273.2,404.2 L273.4,395.7 L273.6,401.4 L273.8,403.3 L274.1,404.7 L274.3,392.2 L274.5,401.7 L274.7,394.7 L274.9,400.8 L275.2,417.2 L275.4,414.6 L275.6,396.5 L275.8,402.8 L276.1,400.9 L276.3,397.8 L276.5,414.9 L276.7,405.1 L276.9,381.7 L277.2,417.2 L277.4,397.1 L277.6,396.7 L277.8,411.6 L278.1,395.8 L278.3,394.7 L278.5,406.8 L278.7,406.3 L278.9,417.2 L279.2,407.2 L279.4,387.2 L279.6,401.9 L279.8,409.9 L280.1,405.3 L280.3,401.2 L280.5,387.0 L280.7,395.5 L280.9,401.0 L281.2,398.8 L281.4,399.5 L281.6,398.3 L281.8,408.3 L282.1,417.2 L282.3,402.5 L282.5,397.9 L282.7,407.2 L282.9,407.7 L283.2,405.2 L283.4,399.8 L283.6,407.1 L283.8,395.8 L284.0,402.0 L284.3,398.7 L284.5,392.6 L284.7,401.6 L284.9,401.8 L285.2,409.2 L285.4,398.2 L285.6,408.5 L285.8,392.9 L286.0,397.7 L286.3,398.5 L286.5,407.4 L286.7,398.3 L286.9,404.5 L287.2,402.2 L287.4,393.4 L287.6,406.0 L287.8,393.7 L288.0,403.6 L288.3,398.5 L288.5,409.3 L288.7,397.8 L288.9,400.3 L289.2,392.3 L289.4,396.7 L289.6,413.0 L289.8,404.5 L290.0,417.2 L290.3,411.3 L290.5,392.9 L290.7,399.4 L290.9,398.9 L291.2,390.6 L291.4,394.7 L291.6,397.8 L291.8,389.2 L292.0,414.5 L292.3,417.2 L292.5,403.2 L292.7,412.0 L292.9,387.9 L293.2,402.3 L293.4,406.9 L293.6,405.0" fill="none" stroke="#5c5cd8" stroke-width="0.36" opacity="0.9"/>
<rect x="294.4" y="400.6" width="44.6" height="7.4" fill="#ffd4de" opacity="0.6"/>
<path d="M294.2,406.2 L294.8,403.9 L295.5,405.5 L296.1,405.2 L296.8,406.6 L297.4,405.8 L298.0,404.4 L298.7,405.5 L299.3,405.0 L300.0,405.8 L300.6,404.7 L301.2,405.2 L301.9,405.2 L302.5,405.2 L303.2,405.0 L303.8,404.3 L304.4,405.6 L305.1,405.8 L305.7,405.3 L306.4,404.7 L307.0,405.4 L307.7,405.6 L308.3,405.2 L308.9,405.3 L309.6,406.1 L310.2,404.7 L310.9,405.0 L311.5,404.3 L312.1,404.9 L312.8,404.9 L313.4,404.8 L314.1,404.9 L314.7,406.3 L315.3,405.2 L316.0,405.2 L316.6,406.5 L317.3,405.3 L317.9,404.3 L318.5,405.5 L319.2,404.8 L319.8,406.2 L320.5,404.6 L321.1,405.0 L321.7,404.4 L322.4,405.4 L323.0,404.7 L323.7,405.3 L324.3,405.1 L324.9,405.0 L325.6,405.8 L326.2,405.8 L326.9,405.3 L327.5,404.8 L328.2,404.7 L328.8,405.4 L329.4,406.6 L330.1,405.0 L330.7,404.9 L331.4,404.9 L332.0,404.7 L332.6,404.8 L333.3,405.2 L333.9,406.1 L334.6,405.3 L335.2,405.0 L335.8,404.4 L336.5,405.4 L337.1,405.3 L337.8,404.6 L338.4,404.7" fill="none" stroke="#c03a3a" stroke-width="0.6"/>
<line x1="293.6" y1="362.9" x2="293.6" y2="448" stroke="#1a1a1a" stroke-width="0.9"/>
<text transform="translate(242.3,405.6) rotate(-90)" font-size="12" font-weight="bold" text-anchor="middle" fill="#111" textLength="70" lengthAdjust="spacingAndGlyphs">Z- Movement</text>
<text x="293.2" y="457.8" font-size="10.6" font-weight="bold" text-anchor="middle" fill="#111" textLength="33" lengthAdjust="spacingAndGlyphs">Time(s)</text>
<polygon points="215,511.8 372,513.8 372,523 355.6,537.4 195.6,535.4 195.6,526" fill="#fbe4f0" opacity="0.6" filter="url(#b1)"/>
<polygon points="216,513.2 370.8,515.4 354.6,529 197,527.3" fill="#f7a90a"/><polygon points="197,527.3 354.6,529 354.6,535.6 197,533.9" fill="#e89a08"/><polygon points="354.6,529 370.8,515.4 370.8,522.0 354.6,535.6" fill="#c98a10"/><line x1="197.4" y1="527.3" x2="197.4" y2="533.9" stroke="#8f9a20" stroke-width="1"/><line x1="370.40000000000003" y1="515.4" x2="370.40000000000003" y2="522.0" stroke="#9aa020" stroke-width="1"/>
<path d="M247.4,520.6 L247.4,515.8439999999999" stroke="#6e605c" stroke-width="1.8" fill="none" stroke-linecap="round"/><path d="M243.8,512.4 L247.4,515.8439999999999 L251.0,512.4" stroke="#85403a" stroke-width="1.7" fill="none" stroke-linecap="round" stroke-linejoin="round"/><circle cx="247.4" cy="520.6" r="0.9" fill="#7a3030"/>
<path d="M259.6,520.6 L259.6,515.8439999999999" stroke="#6e605c" stroke-width="1.8" fill="none" stroke-linecap="round"/><path d="M256.0,512.4 L259.6,515.8439999999999 L263.20000000000005,512.4" stroke="#85403a" stroke-width="1.7" fill="none" stroke-linecap="round" stroke-linejoin="round"/><circle cx="259.6" cy="520.6" r="0.9" fill="#7a3030"/>
<path d="M271.6,520.6 L271.6,515.8439999999999" stroke="#6e605c" stroke-width="1.8" fill="none" stroke-linecap="round"/><path d="M268.0,512.4 L271.6,515.8439999999999 L275.20000000000005,512.4" stroke="#85403a" stroke-width="1.7" fill="none" stroke-linecap="round" stroke-linejoin="round"/><circle cx="271.6" cy="520.6" r="0.9" fill="#7a3030"/>
<path d="M299.3,521.0 L299.3,516.2439999999999" stroke="#6e605c" stroke-width="1.8" fill="none" stroke-linecap="round"/><path d="M295.90000000000003,512.8 L299.3,516.2439999999999 L302.7,512.8" stroke="#85403a" stroke-width="1.7" fill="none" stroke-linecap="round" stroke-linejoin="round"/><circle cx="299.3" cy="521.0" r="0.9" fill="#7a3030"/>
<path d="M310.4,521.0 L310.4,516.2439999999999" stroke="#6e605c" stroke-width="1.8" fill="none" stroke-linecap="round"/><path d="M307.0,512.8 L310.4,516.2439999999999 L313.79999999999995,512.8" stroke="#85403a" stroke-width="1.7" fill="none" stroke-linecap="round" stroke-linejoin="round"/><circle cx="310.4" cy="521.0" r="0.9" fill="#7a3030"/>
<path d="M318.6,521.0 L318.6,516.2439999999999" stroke="#6e605c" stroke-width="1.8" fill="none" stroke-linecap="round"/><path d="M315.20000000000005,512.8 L318.6,516.2439999999999 L322.0,512.8" stroke="#85403a" stroke-width="1.7" fill="none" stroke-linecap="round" stroke-linejoin="round"/><circle cx="318.6" cy="521.0" r="0.9" fill="#7a3030"/>
<rect x="246" y="488" width="42" height="22" fill="#fde4ee" opacity="0.55" filter="url(#b1)"/>
<rect x="294" y="488" width="42" height="24" fill="#fde4ee" opacity="0.55" filter="url(#b1)"/>
<ellipse cx="265.5" cy="498.6" rx="18.5" ry="9.6" fill="#f7c6ce" stroke="#f0d8dc" stroke-width="0.8" opacity="0.9" transform="rotate(-3 265.5 498.6)"/>
<ellipse cx="313.4" cy="496.6" rx="18.6" ry="6.2" fill="#ecc8c8" stroke="#b4a8a0" stroke-width="0.8" opacity="0.85" transform="rotate(9 313.4 496.6)"/>
<line x1="252" y1="505" x2="252" y2="511" stroke="#9a8088" stroke-width="0.7"/>
<line x1="258" y1="505" x2="258" y2="511" stroke="#9a8088" stroke-width="0.7"/>
<line x1="268" y1="505" x2="268" y2="511" stroke="#9a8088" stroke-width="0.7"/>
<line x1="274" y1="505" x2="274" y2="511" stroke="#9a8088" stroke-width="0.7"/>
<line x1="299" y1="506" x2="299" y2="512" stroke="#9a8088" stroke-width="0.7"/>
<line x1="303" y1="506" x2="303" y2="512" stroke="#9a8088" stroke-width="0.7"/>
<line x1="312" y1="506" x2="312" y2="512" stroke="#9a8088" stroke-width="0.7"/>
<line x1="321" y1="506" x2="321" y2="512" stroke="#9a8088" stroke-width="0.7"/>
<ellipse cx="267.2" cy="499.9" rx="18" ry="5.3" fill="#8c2a1c" stroke="#6a5a28" stroke-width="0.7"/>
<rect x="254.6" y="495.8" width="24" height="8.2" rx="3.2" fill="#ee1212"/>
<ellipse cx="314.4" cy="503.4" rx="19.4" ry="5.6" fill="#a01a1a" stroke="#6a2a20" stroke-width="0.7" transform="rotate(10 314.4 503.4)"/>
<ellipse cx="306" cy="500.4" rx="9" ry="2.6" fill="#e01a24" opacity="0.85" transform="rotate(10 306 500.4)" filter="url(#b05)"/>
<g transform="translate(250.6,489.6) rotate(-42) scale(0.42)" fill="#fff" stroke="#666" stroke-width="2.14" ><rect x="0" y="0.9" width="7.3" height="8.5"/><polygon points="7.3,-0.9 13.4,-3.7 18.3,4.2 13.7,12.2 7.3,9.7"/></g>
<g transform="translate(243.4,497.4) rotate(0) scale(0.4)" fill="#fff" stroke="#777" stroke-width="2.25" stroke-dasharray="1 0.6"><rect x="0" y="0.9" width="7.3" height="8.5"/><polygon points="7.3,-0.9 13.4,-3.7 18.3,4.2 13.7,12.2 7.3,9.7"/></g>
<g transform="translate(331.6,494.6) rotate(-35) scale(0.42)" fill="#fff" stroke="#777" stroke-width="2.14" ><rect x="0" y="0.9" width="7.3" height="8.5"/><polygon points="7.3,-0.9 13.4,-3.7 18.3,4.2 13.7,12.2 7.3,9.7"/></g>
<g transform="translate(334.6,502.6) rotate(8) scale(0.4)" fill="#fff" stroke="#777" stroke-width="2.25" ><rect x="0" y="0.9" width="7.3" height="8.5"/><polygon points="7.3,-0.9 13.4,-3.7 18.3,4.2 13.7,12.2 7.3,9.7"/></g>
<rect x="315.8" y="505.4" width="5.4" height="5.6" fill="#fbdce4" stroke="#f090a8" stroke-width="0.6" transform="rotate(-20 318.5 508.2)"/>
<g fill="#44752c"><rect x="288.7" y="483" width="2.1" height="20"/><polygon points="289.75,479.4 292.3,484.4 287.2,484.4"/><polygon points="289.75,506.4 292.3,501.4 287.2,501.4"/></g>
</g>
<g id="panelE">
<text x="371.6" y="355.6" font-size="16.6" fill="#111">E</text>
<rect x="395.6" y="345.6" width="114.39999999999998" height="183.0" fill="#c6f3fb"/>
<clipPath id="cpE"><rect x="397.8" y="348.4" width="110.19999999999999" height="178.0"/></clipPath>
<g clip-path="url(#cpE)">
<rect x="393.8" y="344.4" width="118.19999999999999" height="186.0" fill="#3e9aec"/>
<rect x="397.8" y="348.4" width="110.19999999999999" height="178.0" fill="#3e9aec" filter="url(#noiseE)" opacity="0.9"/>
<rect x="392" y="340" width="124" height="22" fill="#3680e6" opacity="0.55" filter="url(#b3)"/>
<path d="M427.9,487.2 Q416.2,445.7 411.4,425.0 Q406.5,404.2 404.8,383.5 L403.1,362.7" stroke="#60ccf6" stroke-width="6" fill="none" opacity="0.75" stroke-linecap="round" filter="url(#b2)"/>
<path d="M412.0,507.9 Q403.8,473.4 401.0,456.1 L398.2,438.8" stroke="#5cc4f2" stroke-width="6" fill="none" opacity="0.45" stroke-linecap="round" filter="url(#b2)"/>
<path d="M472.2,494.1 Q480.5,445.7 482.9,423.2 Q485.3,400.8 486.4,378.3 L487.4,355.8" stroke="#66d4f6" stroke-width="6" fill="none" opacity="0.9" stroke-linecap="round" filter="url(#b2)"/>
<path d="M482.6,497.5 Q491.6,445.7 494.3,423.2 Q497.1,400.8 498.1,378.3 L499.2,355.8" stroke="#2a5cdc" stroke-width="7" fill="none" opacity="0.75" stroke-linecap="round" filter="url(#b2)"/>
<path d="M492.2,504.5 Q501.2,459.5 504.0,435.3 Q506.8,411.1 507.5,386.9 L508.1,362.7" stroke="#5cc4f2" stroke-width="6" fill="none" opacity="0.55" stroke-linecap="round" filter="url(#b2)"/>
<path d="M443.8,490.6 Q430.7,445.7 425.9,419.8 Q421.0,393.8 421.0,367.9 Q421.0,342.0 446.6,342.0 Q472.2,342.0 471.2,367.9 Q470.1,393.8 465.6,419.8 Q461.1,445.7 456.3,468.2 L451.5,490.6 Z" fill="#4cd4f2" opacity="0.9" filter="url(#b3)"/>
<path d="M443.8,487.2 Q434.2,445.7 431.1,426.7 Q427.9,407.7 429.3,392.1 Q430.7,376.6 447.0,376.6 Q463.2,376.6 464.2,392.1 Q465.3,407.7 461.5,426.7 Q457.7,445.7 454.2,466.4 L450.8,487.2 Z" fill="#58e6e0" opacity="0.75" filter="url(#b3)"/>
<path d="M443.8,483.7 Q434.9,449.2 432.8,435.3 Q430.7,421.5 433.1,407.7 Q435.6,393.8 446.6,393.8 Q457.7,393.8 459.1,407.7 Q460.4,421.5 457.3,435.3 Q454.2,449.2 452.1,466.4 L450.1,483.7 Z" fill="#66ea9c" opacity="0.9" filter="url(#b3)"/>
<path d="M443.8,480.3 Q434.9,449.2 433.5,438.8 Q432.1,428.4 434.2,420.6 Q436.2,412.9 440.4,412.9 Q444.5,412.9 445.9,420.6 Q447.3,428.4 447.3,438.8 Q447.3,449.2 448.0,464.7 L448.7,480.3 Z" fill="#90f070" opacity="0.6" filter="url(#b2)"/>
<path d="M443.2,480.3 Q436.2,452.6 433.8,442.6 Q431.4,432.6 434.5,431.9 Q437.6,431.2 440.0,441.9 Q442.5,452.6 445.9,466.4 L449.4,480.3 Z" fill="#cdf040" opacity="0.95" filter="url(#b15)"/>
<path d="M440.4,480.3 Q427.9,449.8 424.2,440.3 Q420.5,430.8 418.5,414.4 Q416.5,398.0 415.4,381.1 Q414.3,364.1 413.9,354.8 L413.4,345.5" stroke="#2c5cda" stroke-width="8" fill="none" opacity="0.78" stroke-linecap="round" filter="url(#b2)"/>
<path d="M458.4,494.1 Q463.2,449.2 466.3,431.0 Q469.4,412.9 471.5,394.7 Q473.6,376.6 474.4,362.7 L475.3,348.9" stroke="#2440cc" stroke-width="9.5" fill="none" opacity="0.85" stroke-linecap="round" filter="url(#b2)"/>
<path d="M457.7,494.1 Q460.4,466.4 462.2,454.3 L463.9,442.2" stroke="#1a22a6" stroke-width="6" fill="none" opacity="0.9" stroke-linecap="round" filter="url(#b2)"/>
<rect x="440.2" y="480.4" width="12.8" height="21" rx="4.5" fill="#eef230" filter="url(#b1)"/>
<ellipse cx="446.6" cy="491.3" rx="4.6" ry="7" fill="#f0701a" filter="url(#b1)"/>
<ellipse cx="446.6" cy="491.4" rx="3" ry="5" fill="#860808" filter="url(#b05)"/>
<ellipse cx="446.6" cy="498.0" rx="2.6" ry="2" fill="#2a8a4a" opacity="0.8" filter="url(#b05)"/>
<ellipse cx="447.0" cy="503.5" rx="4.5" ry="2.6" fill="#5ce8c0" opacity="0.75" filter="url(#b1)"/>
<ellipse cx="457.7" cy="489.9" rx="3.6" ry="7.5" fill="#181898" opacity="0.92" filter="url(#b15)"/>
</g>
<rect x="472.4" y="512" width="20.8" height="4.7" fill="#fff"/>
<rect x="519.7" y="357.7" width="10.5" height="159" fill="url(#cbE)" stroke="#444" stroke-width="0.4"/>
<text x="531.4" y="359.6" font-size="5.2" font-weight="bold" fill="#222">500</text>
<text x="531.4" y="382.3" font-size="5.2" font-weight="bold" fill="#222">400</text>
<text x="531.4" y="405.0" font-size="5.2" font-weight="bold" fill="#222">300</text>
<text x="531.4" y="427.7" font-size="5.2" font-weight="bold" fill="#222">200</text>
<text x="531.4" y="450.4" font-size="5.2" font-weight="bold" fill="#222">100</text>
<text x="531.4" y="473.1" font-size="5.2" font-weight="bold" fill="#222">0</text>
<text x="531.4" y="495.9" font-size="5.2" font-weight="bold" fill="#222">-100</text>
<text x="531.4" y="518.6" font-size="5.2" font-weight="bold" fill="#222">-200</text>
</g>
</svg>
</body></html>
